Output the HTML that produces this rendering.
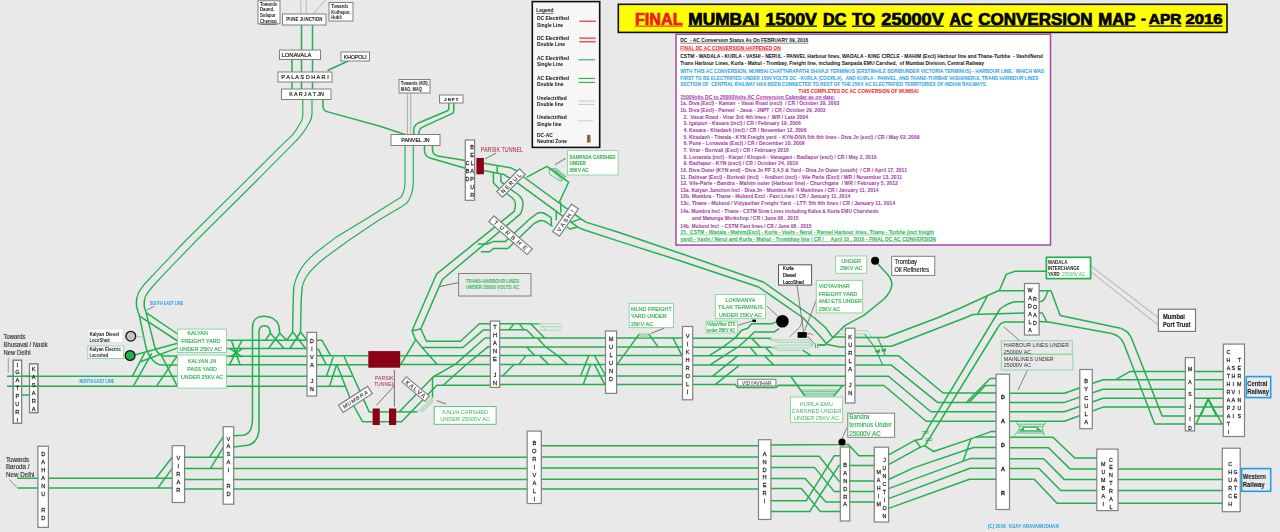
<!DOCTYPE html>
<html><head><meta charset="utf-8"><title>Mumbai DC-AC conversion map</title>
<style>
html,body{margin:0;padding:0;background:#e9e9e9;}
body{width:1280px;height:532px;overflow:hidden;}
svg{display:block;font-family:"Liberation Sans",sans-serif;}
svg text{-webkit-font-smoothing:antialiased;}
#txtlayer{opacity:0.999;}
svg polyline,svg path{fill:none;stroke-linejoin:round;stroke-linecap:butt;}
</style></head><body>
<svg width="1280" height="532" viewBox="0 0 1280 532">
<rect x="0" y="0" width="1280" height="532" fill="#e9e9e9" stroke="none"/>
<g id="txtlayer">
<g id="lines">
<polyline points="300.8,0.0 300.8,14.0" stroke="#c3c3c3" stroke-width="1.2" />
<polyline points="306.3,0.0 306.3,14.0" stroke="#c3c3c3" stroke-width="1.2" />
<polyline points="325.0,0.0 313.8,14.0" stroke="#c3c3c3" stroke-width="1.2" />
<polyline points="301.5,25.0 301.5,50.0" stroke="#22b14c" stroke-width="1.5" />
<polyline points="312.5,25.0 312.5,50.0" stroke="#22b14c" stroke-width="1.5" />
<polyline points="292.0,59.5 292.0,72.0" stroke="#22b14c" stroke-width="1.5" />
<polyline points="292.0,82.0 292.0,89.0" stroke="#22b14c" stroke-width="1.5" />
<polyline points="301.5,59.5 301.5,72.0" stroke="#22b14c" stroke-width="1.5" />
<polyline points="301.5,82.0 301.5,89.0" stroke="#22b14c" stroke-width="1.5" />
<polyline points="312.5,59.5 312.5,72.0" stroke="#22b14c" stroke-width="1.5" />
<polyline points="312.5,82.0 312.5,89.0" stroke="#22b14c" stroke-width="1.5" />
<polyline points="348.8,60.8 327.5,70.5" stroke="#22b14c" stroke-width="1.5" />
<path d="M302.8,99.5 V113 C302.8,119 301.8,121 300.4,122.8 C298.5,126 296.5,129.5 294.1,132.9 C291,137 287.5,139.5 284,142.9 L246.4,180.4 L186.2,240 L155.3,272.7 L146,282.5 C141,288 137.6,293 136.8,298" stroke="#22b14c" stroke-width="1.15" />
<path d="M136.9,297.5 C136.2,301 136.2,304 136.6,307 L139.2,315.2 L145.5,345.4 C147,353 150,357 153,360.5 C156,363.5 158,365 162,365 L177.5,365" stroke="#22b14c" stroke-width="1.5" />
<path d="M312,99.5 V113 C312,119 310.5,121 309.2,122.8 C307.5,126 305.5,129.5 302.9,132.9 C299.5,137.5 296,141 292.8,144.2 L257.3,180 L196.9,240 L165.4,272.7 L154,285 C149,290.5 145.5,295 144.6,299" stroke="#22b14c" stroke-width="1.15" />
<path d="M144.7,298.5 C144,302 144,304.5 144.3,307 L146.1,312.6 L153,340 C154.5,347 155.5,350.5 157.8,352.6 C159.5,354.5 161,355.9 164,355.9 L177.5,355.9" stroke="#22b14c" stroke-width="1.5" />
<path d="M323,99.5 V106 Q323,110.5 327,111.6 L380,126.3 L405,134.5" stroke="#22b14c" stroke-width="1.5" />
<polyline points="407.5,93.0 407.5,134.5" stroke="#b0b0b0" stroke-width="1.1" />
<polyline points="410.8,93.0 410.8,134.5" stroke="#b0b0b0" stroke-width="1.1" />
<path d="M448.8,103 V108.5 Q448.8,110.3 447,111 L417.8,123.3 Q413.8,125.5 413.8,129.5 V134.5" stroke="#22b14c" stroke-width="1.5" />
<path d="M453.8,103 V110.8 Q453.8,112.8 452,113.6 L423.5,126.6 Q419,129 419,132 V134.5" stroke="#22b14c" stroke-width="1.5" />
<path d="M405,145.5 V182.7 C404.8,190 403.5,194 400.8,197.2 L364.5,220 L335.6,237.6 L318,251 C311,256.5 305,262.5 301.6,267.9 C298.5,273 295,280 293.8,287" stroke="#22b14c" stroke-width="1.15" />
<polyline points="293.8,286.5 293.2,300.0 292.6,333.0" stroke="#22b14c" stroke-width="1.4" />
<path d="M413.3,145.5 V182.7 C413,192 410.5,198 407.1,202.8 L400.1,207.6 L379,220 L348.2,240.8 L326,257 C319,262.5 313,268 309.1,272.9 C306,277 303.2,282 302.2,287" stroke="#22b14c" stroke-width="1.15" />
<polyline points="302.2,286.5 301.2,300.0 300.5,333.0" stroke="#22b14c" stroke-width="1.4" />
<path d="M432.5,145.5 V150 Q433,155 438,156 L465.3,160.5" stroke="#22b14c" stroke-width="1.5" />
<path d="M424.5,145.5 V151 Q425,156.5 430,158 L465.3,168.3" stroke="#22b14c" stroke-width="1.5" />
<polyline points="483.7,163.3 510.4,167.7 515.4,170.2 523.0,176.5 580.9,218.9 585.9,222.1 620.0,232.8 680.0,253.2 763.3,282.0 814.6,318.0 825.9,328.0 832.2,336.9 845.8,336.9" stroke="#22b14c" stroke-width="1.5" />
<polyline points="483.7,170.6 504.0,174.6 517.3,182.8 556.3,211.4 577.8,227.1 581.5,229.0 620.0,241.6 680.0,260.7 758.6,287.0 803.3,318.0 820.9,336.9 827.2,344.4 838.5,346.7 845.4,347.2" stroke="#22b14c" stroke-width="1.5" />
<polyline points="497.2,165.2 497.2,172.9" stroke="#22b14c" stroke-width="1.5" />
<path d="M493.4,172.5 V182.8 L499,188.5 L508.5,195 C513,198 515.4,200 515.4,203.8 C515.4,207 515,209.5 514.2,211.4 L436.7,273.8 L412,330.7 L415.2,338.9 L422.1,347.5 H463 L483.2,330.1 H490.3" stroke="#22b14c" stroke-width="1.5" />
<path d="M500.9,174.6 V181.6 L510.4,189.1 L518.6,195 C522,198 523,200 523,203.8 C523,208 522,211 520.5,213.9 L442.3,279.5 L420.8,328.9 L426.5,341.2 H460.5 L479.4,323.8 H490.3" stroke="#22b14c" stroke-width="1.5" />
<polyline points="412.0,330.7 420.8,328.9" stroke="#22b14c" stroke-width="1.5" />
<polyline points="415.8,339.6 400.5,364.8" stroke="#22b14c" stroke-width="1.5" />
<polyline points="422.1,347.5 437.2,364.6" stroke="#22b14c" stroke-width="1.5" />
<path d="M551.3,217.7 L544.5,213.5 Q540.6,211.5 537,213.5 L530.5,218.3 L505.3,241.6 H493.4 L487,244 H477.6" stroke="#22b14c" stroke-width="1.5" />
<path d="M552.6,226.5 L546,222 Q541.9,219.5 538,221.5 L534.3,223.3 L507.9,248.5 H493.4 L489.6,251.7 H480.8" stroke="#22b14c" stroke-width="1.5" />
<polyline points="556.3,211.4 556.3,220.2" stroke="#22b14c" stroke-width="1.5" />
<polyline points="551.3,217.7 551.3,225.9" stroke="#22b14c" stroke-width="1.5" />
<polyline points="570.8,222.1 580.9,218.9" stroke="#22b14c" stroke-width="1.5" />
<polyline points="567.1,227.1 569.6,229.0 577.8,227.1" stroke="#22b14c" stroke-width="1.5" />
<polyline points="526.8,177.2 546.9,166.4 568.6,182.2 559.5,201.7 560.8,203.0 560.8,212.6" stroke="#22b14c" stroke-width="1.5" />
<g stroke="#22b14c" stroke-width="0.7" fill="none">
<polygon points="549.4,169 555.7,168.3 565.8,176.5 560.8,181.6 549.4,174"/>
<line x1="550.8" y1="169.1" x2="561.9" y2="180.5"/>
<line x1="552.2" y1="169.2" x2="563.0" y2="179.4"/>
<line x1="553.6" y1="169.3" x2="564.1" y2="178.3"/>
<line x1="555.0" y1="169.4" x2="565.2" y2="177.2"/>
</g>
<path d="M878,264 L888,275 Q893,281 891.5,287 Q890,293 884,299 L864.2,315.2 L844.8,325.6 L832.2,338.2 L824.7,345.1 H818.4" stroke="#22b14c" stroke-width="1.5" />
<polyline points="7.0,376.3 177.5,376.3" stroke="#22b14c" stroke-width="1.5" />
<polyline points="7.0,386.2 177.5,386.2" stroke="#22b14c" stroke-width="1.5" />
<polyline points="21.6,395.0 29.5,395.0" stroke="#22b14c" stroke-width="1.5" />
<polyline points="8.3,357.5 8.3,372.5" stroke="#8a8a8a" stroke-width="0.8" />
<polyline points="132.3,376.3 144.6,353.2" stroke="#22b14c" stroke-width="1.5" />
<polyline points="133.4,386.2 151.8,353.4" stroke="#22b14c" stroke-width="1.5" />
<polyline points="156.5,386.2 177.2,355.9" stroke="#22b14c" stroke-width="1.5" />
<polyline points="161.8,356.2 177.2,386.2" stroke="#22b14c" stroke-width="1.5" />
<polyline points="139.2,315.8 177.6,341.0" stroke="#22b14c" stroke-width="1.5" />
<polyline points="146.1,312.6 177.6,334.0" stroke="#22b14c" stroke-width="1.5" />
<polyline points="135.4,354.8 177.6,343.2" stroke="#22b14c" stroke-width="1.5" />
<polyline points="140.5,361.8 177.6,347.9" stroke="#22b14c" stroke-width="1.5" />
<polyline points="136.7,336.2 144.2,337.4" stroke="#b5b5b5" stroke-width="0.9" />
<polyline points="146.7,310.1 154.3,306.3" stroke="#666" stroke-width="0.8" />
<polyline points="226.5,340.3 307.0,340.3" stroke="#22b14c" stroke-width="1.5" />
<polyline points="226.5,348.5 307.0,348.5" stroke="#22b14c" stroke-width="1.5" />
<polyline points="226.5,356.3 307.0,356.3" stroke="#22b14c" stroke-width="1.5" />
<polyline points="226.5,364.8 307.0,364.8" stroke="#22b14c" stroke-width="1.5" />
<polyline points="226.5,376.3 307.0,376.3" stroke="#22b14c" stroke-width="1.5" />
<polyline points="226.5,386.2 307.0,386.2" stroke="#22b14c" stroke-width="1.5" />
<polyline points="231.3,340.3 240.1,364.8" stroke="#22b14c" stroke-width="1.5" />
<polyline points="242.0,340.3 229.4,364.8" stroke="#22b14c" stroke-width="1.5" />
<polyline points="230.4,348.9 242.2,356.8" stroke="#22b14c" stroke-width="1.5" />
<polyline points="242.2,348.9 230.4,356.8" stroke="#22b14c" stroke-width="1.5" />
<path d="M233.7,435.8 L243,435.2 C250,434.5 252.5,427 252.5,418 V327.6 C252.5,320 257,316.3 263.4,316.3 C271,316.3 279.2,320 279.2,328.9 L279.8,333.3 L286.7,340.3" stroke="#22b14c" stroke-width="1.5" />
<path d="M233.7,447 L246,445.6 C255,444.5 259,437 259,428 V332.7 C259,328 261,325.7 264,325.7 C267.5,325.7 270.3,328 270.3,333.3 L284.2,348.5" stroke="#22b14c" stroke-width="1.5" />
<polyline points="270.3,333.3 265.3,340.3" stroke="#22b14c" stroke-width="1.5" />
<polyline points="279.8,333.3 268.5,348.5" stroke="#22b14c" stroke-width="1.5" />
<polyline points="292.8,332.0 286.7,340.3" stroke="#22b14c" stroke-width="1.5" />
<polyline points="292.8,332.0 305.6,348.5" stroke="#22b14c" stroke-width="1.5" />
<polyline points="300.6,332.0 289.9,348.5" stroke="#22b14c" stroke-width="1.5" />
<polyline points="300.6,332.0 306.9,340.3" stroke="#22b14c" stroke-width="1.5" />
<polyline points="316.5,340.3 322.0,340.3 330.8,355.8" stroke="#22b14c" stroke-width="1.5" />
<polyline points="316.5,348.6 318.2,349.1 326.4,364.8" stroke="#22b14c" stroke-width="1.5" />
<polyline points="316.5,355.8 368.3,355.8" stroke="#22b14c" stroke-width="1.5" />
<polyline points="316.5,364.8 368.3,364.8" stroke="#22b14c" stroke-width="1.5" />
<polyline points="316.5,376.3 352.5,376.3" stroke="#22b14c" stroke-width="1.5" />
<polyline points="316.5,386.3 346.0,386.3" stroke="#22b14c" stroke-width="1.5" />
<polyline points="333.3,356.7 326.4,376.3" stroke="#22b14c" stroke-width="1.5" />
<polyline points="336.4,365.2 329.5,386.3" stroke="#22b14c" stroke-width="1.5" />
<polyline points="344.0,356.3 369.2,411.9 372.6,411.9" stroke="#22b14c" stroke-width="1.5" />
<polyline points="337.1,365.2 351.6,402.0 362.5,421.7 372.6,421.7" stroke="#22b14c" stroke-width="1.5" />
<polyline points="379.8,411.9 389.0,411.9" stroke="#22b14c" stroke-width="1.5" />
<polyline points="379.8,421.7 389.0,421.7" stroke="#22b14c" stroke-width="1.5" />
<polyline points="396.2,411.9 417.3,411.9" stroke="#22b14c" stroke-width="1.5" />
<polyline points="399.1,411.9 433.1,377.0 455.5,364.1 485.0,338.0 490.3,338.0" stroke="#22b14c" stroke-width="1.5" />
<polyline points="396.2,421.7 401.6,421.7 436.9,385.3 490.3,385.3" stroke="#22b14c" stroke-width="1.5" />
<polyline points="433.1,377.0 434.5,376.2 490.3,376.2" stroke="#22b14c" stroke-width="1.5" />
<polyline points="443.2,385.3 465.8,365.0 488.2,346.7 490.3,346.7" stroke="#22b14c" stroke-width="1.5" />
<polyline points="432.5,377.0 432.5,397.7" stroke="#22b14c" stroke-width="1.5" />
<polyline points="417.6,411.7 432.6,397.0" stroke="#5cc47a" stroke-width="0.5" />
<polyline points="419.3,411.7 432.9,398.5" stroke="#5cc47a" stroke-width="0.5" />
<polyline points="421.0,411.7 433.2,400.0" stroke="#5cc47a" stroke-width="0.5" />
<polyline points="422.7,411.7 433.5,401.5" stroke="#5cc47a" stroke-width="0.5" />
<polyline points="400.3,355.7 490.3,355.7" stroke="#22b14c" stroke-width="1.5" />
<polyline points="400.3,364.6 490.3,364.6" stroke="#22b14c" stroke-width="1.5" />
<polyline points="499.7,338.0 605.6,338.0" stroke="#22b14c" stroke-width="1.5" />
<polyline points="499.7,347.0 605.6,347.0" stroke="#22b14c" stroke-width="1.5" />
<polyline points="499.7,355.6 605.6,355.6" stroke="#22b14c" stroke-width="1.5" />
<polyline points="499.7,364.4 605.6,364.4" stroke="#22b14c" stroke-width="1.5" />
<polyline points="499.7,376.0 605.6,376.0" stroke="#22b14c" stroke-width="1.5" />
<polyline points="499.7,384.4 605.6,384.4" stroke="#22b14c" stroke-width="1.5" />
<polyline points="499.7,323.7 539.6,323.7" stroke="#22b14c" stroke-width="1.5" />
<polyline points="499.7,329.8 526.8,329.8" stroke="#22b14c" stroke-width="1.5" />
<polyline points="540.0,323.7 561.8,323.7" stroke="#8fd6a1" stroke-width="0.7" />
<polyline points="540.0,326.8 561.8,326.8" stroke="#8fd6a1" stroke-width="0.7" />
<polyline points="540.0,330.2 561.8,330.2" stroke="#8fd6a1" stroke-width="0.7" />
<polyline points="531.5,323.7 540.0,323.7 546.0,330.2" stroke="#8fd6a1" stroke-width="0.7" />
<polyline points="508.8,329.9 513.9,323.9" stroke="#22b14c" stroke-width="1.5" />
<polyline points="519.5,323.9 523.8,329.9" stroke="#22b14c" stroke-width="1.5" />
<polyline points="526.6,329.8 534.5,338.0" stroke="#22b14c" stroke-width="1.5" />
<polyline points="537.6,338.2 545.5,346.8 557.4,355.4 567.4,364.4" stroke="#22b14c" stroke-width="1.5" />
<polyline points="530.9,323.9 544.7,338.0" stroke="#22b14c" stroke-width="1.5" />
<polyline points="526.6,347.0 534.5,355.2" stroke="#22b14c" stroke-width="1.5" />
<polyline points="539.7,355.6 548.5,364.4" stroke="#22b14c" stroke-width="1.5" />
<polyline points="525.9,355.6 518.9,364.4" stroke="#22b14c" stroke-width="1.5" />
<polyline points="513.9,364.4 502.6,376.0" stroke="#22b14c" stroke-width="1.5" />
<polyline points="580.6,376.0 588.8,355.6" stroke="#22b14c" stroke-width="1.5" />
<polyline points="594.5,355.6 605.8,376.0" stroke="#22b14c" stroke-width="1.5" />
<polyline points="583.2,384.4 590.7,364.4" stroke="#22b14c" stroke-width="1.5" />
<polyline points="594.5,364.4 604.6,384.4" stroke="#22b14c" stroke-width="1.5" />
<polyline points="616.5,338.0 682.5,338.0" stroke="#22b14c" stroke-width="1.5" />
<polyline points="616.5,347.0 682.5,347.0" stroke="#22b14c" stroke-width="1.5" />
<polyline points="616.5,355.6 682.5,355.6" stroke="#22b14c" stroke-width="1.5" />
<polyline points="616.5,364.4 682.5,364.4" stroke="#22b14c" stroke-width="1.5" />
<polyline points="616.5,376.0 682.5,376.0" stroke="#22b14c" stroke-width="1.5" />
<polyline points="616.5,384.4 682.5,384.4" stroke="#22b14c" stroke-width="1.5" />
<polyline points="616.9,364.6 639.0,334.4 649.0,334.4 657.9,346.6" stroke="#22b14c" stroke-width="1.5" />
<rect x="639.5" y="333.8" width="9" height="3.6" fill="#a8dcb4" stroke="none"/>
<polyline points="673.0,338.0 681.8,355.4" stroke="#22b14c" stroke-width="1.5" />
<polyline points="650.5,333.6 664.5,328.0" stroke="#555" stroke-width="0.8" />
<polyline points="692.6,338.2 771.2,338.2" stroke="#22b14c" stroke-width="1.5" />
<polyline points="692.6,347.2 771.8,347.2" stroke="#22b14c" stroke-width="1.5" />
<polyline points="692.6,355.8 845.6,355.8" stroke="#22b14c" stroke-width="1.5" />
<polyline points="692.6,364.9 845.6,364.9" stroke="#22b14c" stroke-width="1.5" />
<polyline points="692.6,376.2 845.6,376.2" stroke="#22b14c" stroke-width="1.5" />
<polyline points="692.6,384.6 735.4,384.6 737.4,387.4 776.3,387.4 778.3,385.2 845.6,385.6" stroke="#22b14c" stroke-width="1.5" />
<polyline points="708.8,355.8 722.7,347.2 735.3,338.0 741.6,330.2 747.9,328.3 751.6,323.7 772.4,323.7 776.0,321.8" stroke="#22b14c" stroke-width="1.5" />
<polyline points="710.1,364.9 723.9,355.8 737.8,347.2 748.5,338.0 754.2,331.9 774.3,331.9 779.3,328.7" stroke="#22b14c" stroke-width="1.5" />
<polyline points="712.6,376.2 737.8,355.8" stroke="#22b14c" stroke-width="1.5" />
<polyline points="715.1,384.6 739.0,365.6" stroke="#22b14c" stroke-width="1.5" />
<polyline points="751.7,338.4 760.6,347.4" stroke="#22b14c" stroke-width="1.5" />
<polyline points="750.3,347.4 757.3,355.8" stroke="#22b14c" stroke-width="1.5" />
<polyline points="765.8,347.4 773.3,355.8" stroke="#22b14c" stroke-width="1.5" />
<polyline points="764.4,355.8 773.8,364.9" stroke="#22b14c" stroke-width="1.5" />
<polyline points="790.7,376.2 805.0,396.3" stroke="#22b14c" stroke-width="1.5" />
<polyline points="842.6,385.5 833.5,396.3" stroke="#22b14c" stroke-width="1.5" />
<polyline points="800.5,390.0 837.5,390.0" stroke="#22b14c" stroke-width="0.6" />
<polyline points="801.6,391.6 836.4,391.6" stroke="#22b14c" stroke-width="0.6" />
<polyline points="802.7,393.2 835.3,393.2" stroke="#22b14c" stroke-width="0.6" />
<polyline points="803.9,394.8 834.1,394.8" stroke="#22b14c" stroke-width="0.6" />
<polyline points="804.9,396.3 833.1,396.3" stroke="#22b14c" stroke-width="0.6" />
<polyline points="802.6,350.1 811.5,355.8" stroke="#22b14c" stroke-width="1.5" />
<polyline points="766.0,338.6 779.0,340.0 809.0,340.0 813.0,345.2" stroke="#6cc985" stroke-width="0.55" />
<polyline points="768.0,339.4 779.0,342.4 809.0,342.4 813.0,345.2" stroke="#6cc985" stroke-width="0.55" />
<polyline points="771.5,347.2 779.0,345.2 809.0,345.2 813.0,345.2" stroke="#6cc985" stroke-width="0.55" />
<polyline points="772.0,347.6 779.0,348.0 809.0,348.0 813.0,345.2" stroke="#6cc985" stroke-width="0.55" />
<polyline points="772.5,348.0 779.0,350.4 802.6,350.4" stroke="#6cc985" stroke-width="0.55" />
<polyline points="815.4,343.6 815.4,348.2" stroke="#22b14c" stroke-width="0.9" />
<polyline points="817.6,343.6 817.6,348.2" stroke="#22b14c" stroke-width="0.9" />
<polyline points="818.4,345.1 824.7,345.1" stroke="#22b14c" stroke-width="1.5" />
<polyline points="840.0,330.6 845.6,330.6" stroke="#8fd6a1" stroke-width="0.7" />
<polyline points="838.0,334.0 845.6,334.0" stroke="#8fd6a1" stroke-width="0.7" />
<polyline points="854.9,330.6 867.1,330.6 871.5,337.0" stroke="#8fd6a1" stroke-width="0.7" />
<polyline points="854.9,334.0 864.0,334.0" stroke="#8fd6a1" stroke-width="0.7" />
<polyline points="854.9,337.5 885.3,337.5 937.0,318.0 960.0,308.3 997.8,291.0 999.5,290.8 1024.5,290.8" stroke="#22b14c" stroke-width="1.5" />
<polyline points="854.9,346.3 891.6,346.3 964.7,318.0 972.8,314.5 1024.5,313.0" stroke="#22b14c" stroke-width="1.5" />
<polyline points="987.1,296.6 977.6,314.2" stroke="#22b14c" stroke-width="1.5" />
<polyline points="854.9,355.8 898.6,355.8 943.1,393.0 996.1,393.0" stroke="#22b14c" stroke-width="1.5" />
<polyline points="854.9,364.9 891.0,364.9 937.5,402.4 996.1,402.4" stroke="#22b14c" stroke-width="1.5" />
<polyline points="854.9,376.2 888.5,376.2 930.9,411.8 996.1,411.8" stroke="#22b14c" stroke-width="1.5" />
<polyline points="854.9,385.5 883.9,385.5 926.2,421.2 996.1,421.2" stroke="#22b14c" stroke-width="1.5" />
<polyline points="864.6,334.0 874.0,346.3 882.8,364.9" stroke="#22b14c" stroke-width="1.1" />
<polyline points="877.8,337.5 885.3,355.8" stroke="#22b14c" stroke-width="1.1" />
<path d="M875.2,351.6 l4.4,-2 l-0.4,3 z M881.2,350.6 l4.4,-2 l-0.4,3 z" style="fill:#22b14c" stroke="#22b14c" stroke-width="0.8"/>
<polyline points="1046.0,271.2 1015.0,271.2 1006.2,274.4 999.3,290.8" stroke="#22b14c" stroke-width="1.5" />
<path d="M1024.5,301.7 H1017 C1010,302 1005,305 1000,309 L921.6,438.9 L915.3,440.2 L888.6,454.8" stroke="#22b14c" stroke-width="1.5" />
<path d="M1024.5,322 H1004.7 Q1000.5,322.8 998.2,327 L924.8,445.8 L920.4,447.1 L888.6,464.6" stroke="#22b14c" stroke-width="1.5" />
<polyline points="1039.0,290.8 1051.0,290.8 1060.2,315.6 1120.5,328.3" stroke="#22b14c" stroke-width="1.5" />
<path d="M1120.5,328.3 C1126,330 1129.5,333.5 1131.8,339 L1162.2,416.1 H1223.3" stroke="#22b14c" stroke-width="1.5" />
<polyline points="1039.0,321.6 1050.0,322.3 1111.7,333.4" stroke="#22b14c" stroke-width="1.5" />
<path d="M1111.7,333.4 C1118,335 1121.5,338 1123.6,343 L1154.7,424 H1223.3" stroke="#22b14c" stroke-width="1.5" />
<path d="M1039,301.7 L1042,301.2 Q1044.5,300 1045.5,297 L1048,291" stroke="#22b14c" stroke-width="1.5" />
<polyline points="1039.0,313.0 1042.3,313.0 1047.0,322.2" stroke="#22b14c" stroke-width="1.5" />
<polyline points="1090.8,266.0 1158.4,317.7" stroke="#bdbdbd" stroke-width="1.2" />
<polyline points="1090.8,271.6 1158.4,325.2" stroke="#bdbdbd" stroke-width="1.2" />
<polyline points="1009.5,393.3 1064.4,393.3 1103.0,379.8 1223.3,379.8" stroke="#22b14c" stroke-width="1.5" />
<polyline points="1009.5,402.4 1064.4,402.4 1103.0,389.2 1223.3,389.2" stroke="#22b14c" stroke-width="1.5" />
<polyline points="1009.5,411.8 1064.4,411.8 1103.0,398.2 1223.3,398.2" stroke="#22b14c" stroke-width="1.5" />
<polyline points="1009.5,421.2 1064.4,421.2 1103.0,407.1 1223.3,407.1" stroke="#22b14c" stroke-width="1.5" />
<polyline points="1116.1,379.4 1130.2,371.4 1223.3,371.4" stroke="#22b14c" stroke-width="1.5" />
<polyline points="1196.0,424.0 1208.2,398.6 1222.0,424.0" stroke="#22b14c" stroke-width="1.5" />
<polyline points="1200.6,416.1 1208.2,399.5 1216.5,416.1" stroke="#22b14c" stroke-width="1.5" />
<polyline points="996.1,378.5 990.1,378.5 966.6,402.4" stroke="#22b14c" stroke-width="1.5" />
<polyline points="996.1,385.5 985.4,385.5 969.0,402.4" stroke="#22b14c" stroke-width="1.5" />
<polyline points="17.3,478.3 172.2,478.3" stroke="#22b14c" stroke-width="1.5" />
<polyline points="17.3,488.0 172.2,488.0" stroke="#22b14c" stroke-width="1.5" />
<polyline points="9.5,479.6 16.8,487.4" stroke="#777" stroke-width="0.8" />
<polyline points="184.6,457.2 223.2,457.2" stroke="#22b14c" stroke-width="1.5" />
<polyline points="184.6,468.4 223.2,468.4" stroke="#22b14c" stroke-width="1.5" />
<polyline points="184.6,479.4 223.2,479.4" stroke="#22b14c" stroke-width="1.5" />
<polyline points="184.6,489.0 223.2,489.0" stroke="#22b14c" stroke-width="1.5" />
<polyline points="155.8,478.3 172.2,457.2" stroke="#22b14c" stroke-width="1.5" />
<polyline points="157.9,488.0 172.2,468.4" stroke="#22b14c" stroke-width="1.5" />
<polyline points="209.5,457.2 223.2,436.8" stroke="#22b14c" stroke-width="1.5" />
<polyline points="210.5,468.4 223.2,447.4" stroke="#22b14c" stroke-width="1.5" />
<polyline points="233.7,457.2 527.2,457.2" stroke="#22b14c" stroke-width="1.5" />
<polyline points="233.7,468.4 527.2,468.4" stroke="#22b14c" stroke-width="1.5" />
<polyline points="233.7,479.4 527.2,479.4" stroke="#22b14c" stroke-width="1.5" />
<polyline points="233.7,489.0 527.2,489.0" stroke="#22b14c" stroke-width="1.5" />
<polyline points="541.3,445.8 758.5,445.8" stroke="#22b14c" stroke-width="1.5" />
<polyline points="541.3,457.0 758.5,457.0" stroke="#22b14c" stroke-width="1.5" />
<polyline points="541.3,467.9 758.5,467.9" stroke="#22b14c" stroke-width="1.5" />
<polyline points="541.3,479.2 758.5,479.2" stroke="#22b14c" stroke-width="1.5" />
<polyline points="541.3,488.9 758.5,488.9" stroke="#22b14c" stroke-width="1.5" />
<polyline points="770.9,445.0 846.0,444.6 848.4,444.4 858.7,455.7 874.5,455.7" stroke="#22b14c" stroke-width="1.5" />
<polyline points="770.9,456.3 819.2,456.3 839.0,481.1 874.5,481.1" stroke="#22b14c" stroke-width="1.5" />
<polyline points="770.9,467.4 814.5,467.4 834.3,491.6 874.5,491.6" stroke="#22b14c" stroke-width="1.5" />
<polyline points="770.9,478.6 805.2,478.6 825.8,501.9 874.5,501.9" stroke="#22b14c" stroke-width="1.5" />
<polyline points="770.9,488.6 801.4,488.6 820.2,511.5 840.3,511.5" stroke="#22b14c" stroke-width="1.5" />
<polyline points="770.9,500.8 806.1,500.8 834.3,455.7 840.3,455.7" stroke="#22b14c" stroke-width="1.5" />
<polyline points="770.9,511.5 809.8,511.5 839.0,465.4 874.5,465.4" stroke="#22b14c" stroke-width="1.5" />
<polyline points="888.6,479.5 913.5,467.9 973.3,447.5 996.1,447.5" stroke="#22b14c" stroke-width="1.5" />
<polyline points="888.6,488.6 970.8,458.4 996.1,458.4" stroke="#22b14c" stroke-width="1.5" />
<polyline points="888.6,498.6 970.1,468.2 996.1,468.2" stroke="#22b14c" stroke-width="1.5" />
<polyline points="888.6,508.4 969.5,479.2 996.1,479.2" stroke="#22b14c" stroke-width="1.5" />
<polyline points="924.8,445.8 933.6,451.5 970.8,438.9 990.9,431.6 996.1,431.6" stroke="#22b14c" stroke-width="1.5" />
<polyline points="975.5,437.3 977.1,437.0 996.1,437.0" stroke="#22b14c" stroke-width="1.5" />
<polyline points="970.8,438.9 963.2,460.9" stroke="#22b14c" stroke-width="1.5" />
<polyline points="915.3,440.2 920.4,447.1" stroke="#22b14c" stroke-width="1.5" />
<g stroke="#22b14c" stroke-width="0.8"><line x1="922.3" y1="431.6" x2="928.6" y2="431.2"/><line x1="922.3" y1="433.4" x2="928.6" y2="433"/><line x1="925.4" y1="438.8" x2="932.3" y2="438.4"/><line x1="925.4" y1="440.6" x2="932.3" y2="440.2"/></g>
<polyline points="1009.5,437.3 1053.0,437.3 1074.8,458.0 1096.8,458.0" stroke="#22b14c" stroke-width="1.5" />
<polyline points="1009.5,447.8 1048.5,447.8 1070.0,468.9 1222.3,468.9" stroke="#22b14c" stroke-width="1.5" />
<polyline points="1009.5,458.8 1043.7,458.8 1064.4,479.6 1222.3,479.6" stroke="#22b14c" stroke-width="1.5" />
<polyline points="1009.5,468.5 1039.0,468.5 1060.7,490.5 1222.3,490.5" stroke="#22b14c" stroke-width="1.5" />
<polyline points="1009.5,479.3 1034.3,479.3 1057.0,503.3 1222.3,503.3" stroke="#22b14c" stroke-width="1.5" />
<g stroke="#22b14c" stroke-width="0.7" fill="none"><polyline points="1015.8,421.6 1020.1,427.9 1014.2,435.8"/><polyline points="1046.2,421.6 1042.2,427.9 1044.2,435.8"/><line x1="1017.6" y1="424.2" x2="1044.6" y2="424.2"/><line x1="1017" y1="433" x2="1043.4" y2="433"/><line x1="1019.5" y1="426.4" x2="1042.8" y2="426.4"/><line x1="1019" y1="431.4" x2="1042.6" y2="431.4"/></g>
<rect x="1023.7" y="427.5" width="13.4" height="2.8" fill="#fff" stroke="#22b14c" stroke-width="0.8"/>
<path d="M1019.6,430.4 l4,-3 v3 z M1041.2,430.4 l-4,-3 v3 z" style="fill:#22b14c" stroke="#22b14c" stroke-width="0.6"/>
</g>
<g id="boxes">
<rect x="476.4" y="158.0" width="7.5" height="16.3" fill="#880015" stroke="none" stroke-width="0" />
<rect x="368.3" y="351.1" width="31.9" height="16.6" fill="#880015" stroke="none" stroke-width="0" />
<rect x="372.6" y="408.5" width="7.2" height="16.5" fill="#880015" stroke="none" stroke-width="0" />
<rect x="389.0" y="408.5" width="7.2" height="16.5" fill="#880015" stroke="none" stroke-width="0" />
<polyline points="394.4,370.0 394.4,406.6" stroke="#555" stroke-width="0.8" />
<polyline points="394.4,385.8 376.4,405.3" stroke="#555" stroke-width="0.8" />
<polyline points="485.2,158.9 495.9,153.2" stroke="#555" stroke-width="0.8" />
<polyline points="555.1,164.6 565.8,158.3" stroke="#555" stroke-width="0.8" />
<polyline points="440.0,286.5 458.6,282.5" stroke="#555" stroke-width="0.8" />
<polyline points="436.5,400.5 446.0,404.0" stroke="#555" stroke-width="0.8" />
<rect x="282.5" y="14.0" width="43.5" height="11.0" fill="#fff" stroke="#808080" stroke-width="1" />
<text x="286.2" y="21.4" font-size="5" fill="#222" font-weight="bold" stroke="none" stroke-width="0" textLength="36.3" lengthAdjust="spacingAndGlyphs" xml:space="preserve" >PUNE JUNCTION</text>
<rect x="279.5" y="50.0" width="41.0" height="9.5" fill="#fff" stroke="#808080" stroke-width="1" />
<text x="281.4" y="57.0" font-size="6" fill="#222" font-weight="normal" stroke="#222" stroke-width="0.2" textLength="30.0" lengthAdjust="spacingAndGlyphs" xml:space="preserve" >LONAVALA</text>
<rect x="341.0" y="52.0" width="28.5" height="9.0" fill="#fff" stroke="#808080" stroke-width="1" />
<text transform="translate(355.2,58.5) scale(0.92,1)" font-size="5.6" fill="#222" font-weight="normal" text-anchor="middle" stroke="#222" stroke-width="0.2" >KHOPOLI</text>
<rect x="278.0" y="72.0" width="54.0" height="10.0" fill="#fff" stroke="#808080" stroke-width="1" />
<text x="281.3" y="79.0" font-size="5.6" fill="#222" font-weight="normal" stroke="#222" stroke-width="0.2" textLength="47.5" lengthAdjust="spacingAndGlyphs" xml:space="preserve" >P A L A S D H A R I</text>
<rect x="281.5" y="89.0" width="49.5" height="10.5" fill="#fff" stroke="#808080" stroke-width="1" />
<text x="289.3" y="96.3" font-size="5.6" fill="#222" font-weight="normal" stroke="#222" stroke-width="0.2" textLength="34.5" lengthAdjust="spacingAndGlyphs" xml:space="preserve" >K A R J A T JN</text>
<rect x="391.0" y="134.5" width="49.0" height="11.0" fill="#fff" stroke="#808080" stroke-width="1" />
<text transform="translate(415.5,142.1) scale(0.92,1)" font-size="5.8" fill="#222" font-weight="normal" text-anchor="middle" stroke="#222" stroke-width="0.2" >PANVEL JN</text>
<rect x="439.5" y="95.0" width="23.5" height="8.0" fill="#fff" stroke="#808080" stroke-width="1" />
<text transform="translate(451.2,100.6) scale(0.95,1)" font-size="4.4" fill="#222" font-weight="bold" text-anchor="middle" stroke="#222" stroke-width="0.2" >J N P T</text>
<rect x="258.0" y="0.8" width="22.0" height="23.0" fill="#fff" stroke="#808080" stroke-width="1" />
<text transform="translate(260.0,5.5) scale(0.85,1)" font-size="5" fill="#222" font-weight="bold" text-anchor="start" stroke="none" >Towards</text>
<text transform="translate(260.0,11.3) scale(0.85,1)" font-size="5" fill="#222" font-weight="bold" text-anchor="start" stroke="none" >Daund,</text>
<text transform="translate(260.0,17.1) scale(0.85,1)" font-size="5" fill="#222" font-weight="bold" text-anchor="start" stroke="none" >Solapur</text>
<text transform="translate(260.0,22.9) scale(0.85,1)" font-size="5" fill="#222" font-weight="bold" text-anchor="start" stroke="none" text-decoration="underline">Chennai</text>
<rect x="329.0" y="2.5" width="24.0" height="18.5" fill="#fff" stroke="#808080" stroke-width="1" />
<text transform="translate(331.2,8.0) scale(0.85,1)" font-size="5" fill="#222" font-weight="bold" text-anchor="start" stroke="none" >Towards</text>
<text transform="translate(331.2,13.7) scale(0.85,1)" font-size="5" fill="#222" font-weight="bold" text-anchor="start" stroke="none" >Kolhapur,</text>
<text transform="translate(331.2,19.4) scale(0.85,1)" font-size="5" fill="#222" font-weight="bold" text-anchor="start" stroke="none" >Hubli</text>
<rect x="399.0" y="79.5" width="31.0" height="13.5" fill="#fff" stroke="#808080" stroke-width="1" />
<text x="400.8" y="84.7" font-size="4.9" fill="#222" font-weight="bold" stroke="none" stroke-width="0" textLength="28.0" lengthAdjust="spacingAndGlyphs" xml:space="preserve" >Towards (KR),</text>
<text x="400.8" y="90.5" font-size="4.9" fill="#222" font-weight="bold" stroke="none" stroke-width="0" textLength="21.0" lengthAdjust="spacingAndGlyphs" xml:space="preserve" >MAO, MAQ</text>
<rect x="13.2" y="360.2" width="8.4" height="63.1" fill="#fff" stroke="#808080" stroke-width="1" />
<rect x="29.5" y="363.8" width="8.4" height="48.9" fill="#fff" stroke="#808080" stroke-width="1" />
<polyline points="12.0,376.3 39.0,376.3" stroke="#22b14c" stroke-width="1.5" />
<polyline points="12.0,386.2 39.0,386.2" stroke="#22b14c" stroke-width="1.5" />
<rect x="13.2" y="360.2" width="8.4" height="63.1" fill="none" stroke="#808080" stroke-width="1.2" />
<text transform="translate(17.4,366.5) scale(0.95,1)" font-size="6" fill="#2b2b2b" font-weight="normal" text-anchor="middle" stroke="#2b2b2b" stroke-width="0.25">I</text>
<text transform="translate(17.4,374.4) scale(0.95,1)" font-size="6" fill="#2b2b2b" font-weight="normal" text-anchor="middle" stroke="#2b2b2b" stroke-width="0.25">G</text>
<text transform="translate(17.4,382.3) scale(0.95,1)" font-size="6" fill="#2b2b2b" font-weight="normal" text-anchor="middle" stroke="#2b2b2b" stroke-width="0.25">A</text>
<text transform="translate(17.4,390.2) scale(0.95,1)" font-size="6" fill="#2b2b2b" font-weight="normal" text-anchor="middle" stroke="#2b2b2b" stroke-width="0.25">T</text>
<text transform="translate(17.4,398.1) scale(0.95,1)" font-size="6" fill="#2b2b2b" font-weight="normal" text-anchor="middle" stroke="#2b2b2b" stroke-width="0.25">P</text>
<text transform="translate(17.4,406.0) scale(0.95,1)" font-size="6" fill="#2b2b2b" font-weight="normal" text-anchor="middle" stroke="#2b2b2b" stroke-width="0.25">U</text>
<text transform="translate(17.4,413.9) scale(0.95,1)" font-size="6" fill="#2b2b2b" font-weight="normal" text-anchor="middle" stroke="#2b2b2b" stroke-width="0.25">R</text>
<text transform="translate(17.4,421.8) scale(0.95,1)" font-size="6" fill="#2b2b2b" font-weight="normal" text-anchor="middle" stroke="#2b2b2b" stroke-width="0.25">I</text>
<rect x="29.5" y="363.8" width="8.4" height="48.9" fill="none" stroke="#808080" stroke-width="1.2" />
<text transform="translate(33.7,370.5) scale(0.95,1)" font-size="6" fill="#2b2b2b" font-weight="normal" text-anchor="middle" stroke="#2b2b2b" stroke-width="0.25">K</text>
<text transform="translate(33.7,378.5) scale(0.95,1)" font-size="6" fill="#2b2b2b" font-weight="normal" text-anchor="middle" stroke="#2b2b2b" stroke-width="0.25">A</text>
<text transform="translate(33.7,386.5) scale(0.95,1)" font-size="6" fill="#2b2b2b" font-weight="normal" text-anchor="middle" stroke="#2b2b2b" stroke-width="0.25">S</text>
<text transform="translate(33.7,394.5) scale(0.95,1)" font-size="6" fill="#2b2b2b" font-weight="normal" text-anchor="middle" stroke="#2b2b2b" stroke-width="0.25">A</text>
<text transform="translate(33.7,402.5) scale(0.95,1)" font-size="6" fill="#2b2b2b" font-weight="normal" text-anchor="middle" stroke="#2b2b2b" stroke-width="0.25">R</text>
<text transform="translate(33.7,410.5) scale(0.95,1)" font-size="6" fill="#2b2b2b" font-weight="normal" text-anchor="middle" stroke="#2b2b2b" stroke-width="0.25">A</text>
<rect x="37.9" y="446.3" width="10.5" height="81.1" fill="#fff" stroke="#808080" stroke-width="1.2" />
<text transform="translate(43.2,456.3) scale(0.95,1)" font-size="6" fill="#2b2b2b" font-weight="normal" text-anchor="middle" stroke="#2b2b2b" stroke-width="0.25">D</text>
<text transform="translate(43.2,464.3) scale(0.95,1)" font-size="6" fill="#2b2b2b" font-weight="normal" text-anchor="middle" stroke="#2b2b2b" stroke-width="0.25">A</text>
<text transform="translate(43.2,472.3) scale(0.95,1)" font-size="6" fill="#2b2b2b" font-weight="normal" text-anchor="middle" stroke="#2b2b2b" stroke-width="0.25">H</text>
<text transform="translate(43.2,480.3) scale(0.95,1)" font-size="6" fill="#2b2b2b" font-weight="normal" text-anchor="middle" stroke="#2b2b2b" stroke-width="0.25">A</text>
<text transform="translate(43.2,488.3) scale(0.95,1)" font-size="6" fill="#2b2b2b" font-weight="normal" text-anchor="middle" stroke="#2b2b2b" stroke-width="0.25">N</text>
<text transform="translate(43.2,496.3) scale(0.95,1)" font-size="6" fill="#2b2b2b" font-weight="normal" text-anchor="middle" stroke="#2b2b2b" stroke-width="0.25">U</text>
<text transform="translate(43.2,512.3) scale(0.95,1)" font-size="6" fill="#2b2b2b" font-weight="normal" text-anchor="middle" stroke="#2b2b2b" stroke-width="0.25">R</text>
<text transform="translate(43.2,520.3) scale(0.95,1)" font-size="6" fill="#2b2b2b" font-weight="normal" text-anchor="middle" stroke="#2b2b2b" stroke-width="0.25">D</text>
<rect x="172.2" y="445.7" width="12.4" height="56.8" fill="#fff" stroke="#808080" stroke-width="1.2" />
<text transform="translate(178.4,460.1) scale(0.95,1)" font-size="6" fill="#2b2b2b" font-weight="normal" text-anchor="middle" stroke="#2b2b2b" stroke-width="0.25">V</text>
<text transform="translate(178.4,468.1) scale(0.95,1)" font-size="6" fill="#2b2b2b" font-weight="normal" text-anchor="middle" stroke="#2b2b2b" stroke-width="0.25">I</text>
<text transform="translate(178.4,476.1) scale(0.95,1)" font-size="6" fill="#2b2b2b" font-weight="normal" text-anchor="middle" stroke="#2b2b2b" stroke-width="0.25">R</text>
<text transform="translate(178.4,484.1) scale(0.95,1)" font-size="6" fill="#2b2b2b" font-weight="normal" text-anchor="middle" stroke="#2b2b2b" stroke-width="0.25">A</text>
<text transform="translate(178.4,492.1) scale(0.95,1)" font-size="6" fill="#2b2b2b" font-weight="normal" text-anchor="middle" stroke="#2b2b2b" stroke-width="0.25">R</text>
<rect x="223.2" y="426.7" width="10.5" height="77.5" fill="#fff" stroke="#808080" stroke-width="1.2" />
<text transform="translate(228.5,440.5) scale(0.95,1)" font-size="6" fill="#2b2b2b" font-weight="normal" text-anchor="middle" stroke="#2b2b2b" stroke-width="0.25">V</text>
<text transform="translate(228.5,448.4) scale(0.95,1)" font-size="6" fill="#2b2b2b" font-weight="normal" text-anchor="middle" stroke="#2b2b2b" stroke-width="0.25">A</text>
<text transform="translate(228.5,456.4) scale(0.95,1)" font-size="6" fill="#2b2b2b" font-weight="normal" text-anchor="middle" stroke="#2b2b2b" stroke-width="0.25">S</text>
<text transform="translate(228.5,464.3) scale(0.95,1)" font-size="6" fill="#2b2b2b" font-weight="normal" text-anchor="middle" stroke="#2b2b2b" stroke-width="0.25">A</text>
<text transform="translate(228.5,472.3) scale(0.95,1)" font-size="6" fill="#2b2b2b" font-weight="normal" text-anchor="middle" stroke="#2b2b2b" stroke-width="0.25">I</text>
<text transform="translate(228.5,488.2) scale(0.95,1)" font-size="6" fill="#2b2b2b" font-weight="normal" text-anchor="middle" stroke="#2b2b2b" stroke-width="0.25">R</text>
<text transform="translate(228.5,496.1) scale(0.95,1)" font-size="6" fill="#2b2b2b" font-weight="normal" text-anchor="middle" stroke="#2b2b2b" stroke-width="0.25">D</text>
<rect x="307.0" y="332.4" width="9.6" height="63.6" fill="#fff" stroke="#808080" stroke-width="1.2" />
<text transform="translate(311.8,342.6) scale(0.95,1)" font-size="6" fill="#2b2b2b" font-weight="normal" text-anchor="middle" stroke="#2b2b2b" stroke-width="0.25">D</text>
<text transform="translate(311.8,350.6) scale(0.95,1)" font-size="6" fill="#2b2b2b" font-weight="normal" text-anchor="middle" stroke="#2b2b2b" stroke-width="0.25">I</text>
<text transform="translate(311.8,358.6) scale(0.95,1)" font-size="6" fill="#2b2b2b" font-weight="normal" text-anchor="middle" stroke="#2b2b2b" stroke-width="0.25">V</text>
<text transform="translate(311.8,366.6) scale(0.95,1)" font-size="6" fill="#2b2b2b" font-weight="normal" text-anchor="middle" stroke="#2b2b2b" stroke-width="0.25">A</text>
<text transform="translate(311.8,382.6) scale(0.95,1)" font-size="6" fill="#2b2b2b" font-weight="normal" text-anchor="middle" stroke="#2b2b2b" stroke-width="0.25">J</text>
<text transform="translate(311.8,390.6) scale(0.95,1)" font-size="6" fill="#2b2b2b" font-weight="normal" text-anchor="middle" stroke="#2b2b2b" stroke-width="0.25">N</text>
<rect x="490.3" y="321.1" width="9.4" height="66.3" fill="#fff" stroke="#808080" stroke-width="1.2" />
<text transform="translate(495.0,329.1) scale(0.95,1)" font-size="6" fill="#2b2b2b" font-weight="normal" text-anchor="middle" stroke="#2b2b2b" stroke-width="0.25">T</text>
<text transform="translate(495.0,337.1) scale(0.95,1)" font-size="6" fill="#2b2b2b" font-weight="normal" text-anchor="middle" stroke="#2b2b2b" stroke-width="0.25">H</text>
<text transform="translate(495.0,345.1) scale(0.95,1)" font-size="6" fill="#2b2b2b" font-weight="normal" text-anchor="middle" stroke="#2b2b2b" stroke-width="0.25">A</text>
<text transform="translate(495.0,353.1) scale(0.95,1)" font-size="6" fill="#2b2b2b" font-weight="normal" text-anchor="middle" stroke="#2b2b2b" stroke-width="0.25">N</text>
<text transform="translate(495.0,361.1) scale(0.95,1)" font-size="6" fill="#2b2b2b" font-weight="normal" text-anchor="middle" stroke="#2b2b2b" stroke-width="0.25">E</text>
<text transform="translate(495.0,377.1) scale(0.95,1)" font-size="6" fill="#2b2b2b" font-weight="normal" text-anchor="middle" stroke="#2b2b2b" stroke-width="0.25">J</text>
<text transform="translate(495.0,385.1) scale(0.95,1)" font-size="6" fill="#2b2b2b" font-weight="normal" text-anchor="middle" stroke="#2b2b2b" stroke-width="0.25">N</text>
<rect x="605.5" y="331.0" width="11.1" height="62.4" fill="#fff" stroke="#808080" stroke-width="1.2" />
<text transform="translate(611.0,341.1) scale(0.95,1)" font-size="6" fill="#2b2b2b" font-weight="normal" text-anchor="middle" stroke="#2b2b2b" stroke-width="0.25">M</text>
<text transform="translate(611.0,349.1) scale(0.95,1)" font-size="6" fill="#2b2b2b" font-weight="normal" text-anchor="middle" stroke="#2b2b2b" stroke-width="0.25">U</text>
<text transform="translate(611.0,357.1) scale(0.95,1)" font-size="6" fill="#2b2b2b" font-weight="normal" text-anchor="middle" stroke="#2b2b2b" stroke-width="0.25">L</text>
<text transform="translate(611.0,365.1) scale(0.95,1)" font-size="6" fill="#2b2b2b" font-weight="normal" text-anchor="middle" stroke="#2b2b2b" stroke-width="0.25">U</text>
<text transform="translate(611.0,373.1) scale(0.95,1)" font-size="6" fill="#2b2b2b" font-weight="normal" text-anchor="middle" stroke="#2b2b2b" stroke-width="0.25">N</text>
<text transform="translate(611.0,381.1) scale(0.95,1)" font-size="6" fill="#2b2b2b" font-weight="normal" text-anchor="middle" stroke="#2b2b2b" stroke-width="0.25">D</text>
<rect x="682.5" y="326.5" width="10.2" height="73.3" fill="#fff" stroke="#808080" stroke-width="1.2" />
<text transform="translate(687.6,337.9) scale(0.95,1)" font-size="6" fill="#2b2b2b" font-weight="normal" text-anchor="middle" stroke="#2b2b2b" stroke-width="0.25">V</text>
<text transform="translate(687.6,345.9) scale(0.95,1)" font-size="6" fill="#2b2b2b" font-weight="normal" text-anchor="middle" stroke="#2b2b2b" stroke-width="0.25">I</text>
<text transform="translate(687.6,353.9) scale(0.95,1)" font-size="6" fill="#2b2b2b" font-weight="normal" text-anchor="middle" stroke="#2b2b2b" stroke-width="0.25">K</text>
<text transform="translate(687.6,361.9) scale(0.95,1)" font-size="6" fill="#2b2b2b" font-weight="normal" text-anchor="middle" stroke="#2b2b2b" stroke-width="0.25">H</text>
<text transform="translate(687.6,369.9) scale(0.95,1)" font-size="6" fill="#2b2b2b" font-weight="normal" text-anchor="middle" stroke="#2b2b2b" stroke-width="0.25">R</text>
<text transform="translate(687.6,377.9) scale(0.95,1)" font-size="6" fill="#2b2b2b" font-weight="normal" text-anchor="middle" stroke="#2b2b2b" stroke-width="0.25">O</text>
<text transform="translate(687.6,385.9) scale(0.95,1)" font-size="6" fill="#2b2b2b" font-weight="normal" text-anchor="middle" stroke="#2b2b2b" stroke-width="0.25">L</text>
<text transform="translate(687.6,393.9) scale(0.95,1)" font-size="6" fill="#2b2b2b" font-weight="normal" text-anchor="middle" stroke="#2b2b2b" stroke-width="0.25">I</text>
<rect x="845.5" y="328.2" width="9.4" height="74.8" fill="#fff" stroke="#808080" stroke-width="1.2" />
<text transform="translate(850.2,338.5) scale(0.95,1)" font-size="6" fill="#2b2b2b" font-weight="normal" text-anchor="middle" stroke="#2b2b2b" stroke-width="0.25">K</text>
<text transform="translate(850.2,346.5) scale(0.95,1)" font-size="6" fill="#2b2b2b" font-weight="normal" text-anchor="middle" stroke="#2b2b2b" stroke-width="0.25">U</text>
<text transform="translate(850.2,354.6) scale(0.95,1)" font-size="6" fill="#2b2b2b" font-weight="normal" text-anchor="middle" stroke="#2b2b2b" stroke-width="0.25">R</text>
<text transform="translate(850.2,362.6) scale(0.95,1)" font-size="6" fill="#2b2b2b" font-weight="normal" text-anchor="middle" stroke="#2b2b2b" stroke-width="0.25">L</text>
<text transform="translate(850.2,370.7) scale(0.95,1)" font-size="6" fill="#2b2b2b" font-weight="normal" text-anchor="middle" stroke="#2b2b2b" stroke-width="0.25">A</text>
<text transform="translate(850.2,386.8) scale(0.95,1)" font-size="6" fill="#2b2b2b" font-weight="normal" text-anchor="middle" stroke="#2b2b2b" stroke-width="0.25">J</text>
<text transform="translate(850.2,394.8) scale(0.95,1)" font-size="6" fill="#2b2b2b" font-weight="normal" text-anchor="middle" stroke="#2b2b2b" stroke-width="0.25">N</text>
<rect x="996.1" y="374.2" width="13.4" height="135.3" fill="#fff" stroke="#808080" stroke-width="1.2" />
<text transform="translate(1002.8,398.7) scale(0.95,1)" font-size="5.6" fill="#111" font-weight="bold" text-anchor="middle" stroke="#111" stroke-width="0.25">D</text>
<text transform="translate(1002.8,422.7) scale(0.95,1)" font-size="5.6" fill="#111" font-weight="bold" text-anchor="middle" stroke="#111" stroke-width="0.25">A</text>
<text transform="translate(1002.8,446.7) scale(0.95,1)" font-size="5.6" fill="#111" font-weight="bold" text-anchor="middle" stroke="#111" stroke-width="0.25">D</text>
<text transform="translate(1002.8,470.7) scale(0.95,1)" font-size="5.6" fill="#111" font-weight="bold" text-anchor="middle" stroke="#111" stroke-width="0.25">A</text>
<text transform="translate(1002.8,494.7) scale(0.95,1)" font-size="5.6" fill="#111" font-weight="bold" text-anchor="middle" stroke="#111" stroke-width="0.25">R</text>
<rect x="1024.5" y="283.5" width="14.6" height="51.5" fill="#fff" stroke="#808080" stroke-width="1.2" />
<text transform="translate(1030.0,292.4) scale(0.95,1)" font-size="5.6" fill="#2b2b2b" font-weight="normal" text-anchor="middle" stroke="#2b2b2b" stroke-width="0.25">W</text>
<text transform="translate(1030.0,300.4) scale(0.95,1)" font-size="5.6" fill="#2b2b2b" font-weight="normal" text-anchor="middle" stroke="#2b2b2b" stroke-width="0.25">A</text>
<text transform="translate(1030.0,308.4) scale(0.95,1)" font-size="5.6" fill="#2b2b2b" font-weight="normal" text-anchor="middle" stroke="#2b2b2b" stroke-width="0.25">D</text>
<text transform="translate(1030.0,316.4) scale(0.95,1)" font-size="5.6" fill="#2b2b2b" font-weight="normal" text-anchor="middle" stroke="#2b2b2b" stroke-width="0.25">A</text>
<text transform="translate(1030.0,324.4) scale(0.95,1)" font-size="5.6" fill="#2b2b2b" font-weight="normal" text-anchor="middle" stroke="#2b2b2b" stroke-width="0.25">L</text>
<text transform="translate(1030.0,332.4) scale(0.95,1)" font-size="5.6" fill="#2b2b2b" font-weight="normal" text-anchor="middle" stroke="#2b2b2b" stroke-width="0.25">A</text>
<text transform="translate(1035.0,300.5) scale(0.95,1)" font-size="5.6" fill="#2b2b2b" font-weight="normal" text-anchor="middle" stroke="#2b2b2b" stroke-width="0.25">R</text>
<text transform="translate(1035.0,308.5) scale(0.95,1)" font-size="5.6" fill="#2b2b2b" font-weight="normal" text-anchor="middle" stroke="#2b2b2b" stroke-width="0.25">O</text>
<text transform="translate(1035.0,316.5) scale(0.95,1)" font-size="5.6" fill="#2b2b2b" font-weight="normal" text-anchor="middle" stroke="#2b2b2b" stroke-width="0.25">A</text>
<text transform="translate(1035.0,324.5) scale(0.95,1)" font-size="5.6" fill="#2b2b2b" font-weight="normal" text-anchor="middle" stroke="#2b2b2b" stroke-width="0.25">D</text>
<rect x="1079.8" y="369.5" width="12.5" height="59.2" fill="#fff" stroke="#808080" stroke-width="1.2" />
<text transform="translate(1086.2,383.3) scale(0.95,1)" font-size="6" fill="#2b2b2b" font-weight="normal" text-anchor="middle" stroke="#2b2b2b" stroke-width="0.25">B</text>
<text transform="translate(1086.2,391.4) scale(0.95,1)" font-size="6" fill="#2b2b2b" font-weight="normal" text-anchor="middle" stroke="#2b2b2b" stroke-width="0.25">Y</text>
<text transform="translate(1086.2,399.5) scale(0.95,1)" font-size="6" fill="#2b2b2b" font-weight="normal" text-anchor="middle" stroke="#2b2b2b" stroke-width="0.25">C</text>
<text transform="translate(1086.2,407.6) scale(0.95,1)" font-size="6" fill="#2b2b2b" font-weight="normal" text-anchor="middle" stroke="#2b2b2b" stroke-width="0.25">U</text>
<text transform="translate(1086.2,415.7) scale(0.95,1)" font-size="6" fill="#2b2b2b" font-weight="normal" text-anchor="middle" stroke="#2b2b2b" stroke-width="0.25">L</text>
<text transform="translate(1086.2,423.8) scale(0.95,1)" font-size="6" fill="#2b2b2b" font-weight="normal" text-anchor="middle" stroke="#2b2b2b" stroke-width="0.25">A</text>
<rect x="1185.3" y="357.6" width="9.2" height="73.3" fill="#fff" stroke="#808080" stroke-width="1.2" />
<text transform="translate(1190.0,371.4) scale(0.95,1)" font-size="5.2" fill="#2b2b2b" font-weight="normal" text-anchor="middle" stroke="#2b2b2b" stroke-width="0.25">M</text>
<text transform="translate(1190.0,384.2) scale(0.95,1)" font-size="5.2" fill="#2b2b2b" font-weight="normal" text-anchor="middle" stroke="#2b2b2b" stroke-width="0.25">A</text>
<text transform="translate(1190.0,396.4) scale(0.95,1)" font-size="5.2" fill="#2b2b2b" font-weight="normal" text-anchor="middle" stroke="#2b2b2b" stroke-width="0.25">S</text>
<text transform="translate(1190.0,409.0) scale(0.95,1)" font-size="5.2" fill="#2b2b2b" font-weight="normal" text-anchor="middle" stroke="#2b2b2b" stroke-width="0.25">J</text>
<text transform="translate(1190.0,421.2) scale(0.95,1)" font-size="5.2" fill="#2b2b2b" font-weight="normal" text-anchor="middle" stroke="#2b2b2b" stroke-width="0.25">I</text>
<text transform="translate(1190.0,429.6) scale(0.95,1)" font-size="5.2" fill="#2b2b2b" font-weight="normal" text-anchor="middle" stroke="#2b2b2b" stroke-width="0.25">D</text>
<rect x="1223.3" y="344.1" width="21.2" height="92.4" fill="#fff" stroke="#808080" stroke-width="1.2" />
<text transform="translate(1228.5,354.2) scale(0.95,1)" font-size="5.6" fill="#2b2b2b" font-weight="normal" text-anchor="middle" stroke="#2b2b2b" stroke-width="0.25">C</text>
<text transform="translate(1228.5,362.2) scale(0.95,1)" font-size="5.6" fill="#2b2b2b" font-weight="normal" text-anchor="middle" stroke="#2b2b2b" stroke-width="0.25">H</text>
<text transform="translate(1228.5,370.1) scale(0.95,1)" font-size="5.6" fill="#2b2b2b" font-weight="normal" text-anchor="middle" stroke="#2b2b2b" stroke-width="0.25">A</text>
<text transform="translate(1228.5,378.1) scale(0.95,1)" font-size="5.6" fill="#2b2b2b" font-weight="normal" text-anchor="middle" stroke="#2b2b2b" stroke-width="0.25">T</text>
<text transform="translate(1228.5,386.0) scale(0.95,1)" font-size="5.6" fill="#2b2b2b" font-weight="normal" text-anchor="middle" stroke="#2b2b2b" stroke-width="0.25">H</text>
<text transform="translate(1228.5,394.0) scale(0.95,1)" font-size="5.6" fill="#2b2b2b" font-weight="normal" text-anchor="middle" stroke="#2b2b2b" stroke-width="0.25">R</text>
<text transform="translate(1228.5,401.9) scale(0.95,1)" font-size="5.6" fill="#2b2b2b" font-weight="normal" text-anchor="middle" stroke="#2b2b2b" stroke-width="0.25">A</text>
<text transform="translate(1228.5,409.9) scale(0.95,1)" font-size="5.6" fill="#2b2b2b" font-weight="normal" text-anchor="middle" stroke="#2b2b2b" stroke-width="0.25">P</text>
<text transform="translate(1228.5,417.8) scale(0.95,1)" font-size="5.6" fill="#2b2b2b" font-weight="normal" text-anchor="middle" stroke="#2b2b2b" stroke-width="0.25">A</text>
<text transform="translate(1228.5,425.8) scale(0.95,1)" font-size="5.6" fill="#2b2b2b" font-weight="normal" text-anchor="middle" stroke="#2b2b2b" stroke-width="0.25">T</text>
<text transform="translate(1228.5,433.7) scale(0.95,1)" font-size="5.6" fill="#2b2b2b" font-weight="normal" text-anchor="middle" stroke="#2b2b2b" stroke-width="0.25">I</text>
<text transform="translate(1233.3,370.2) scale(0.95,1)" font-size="5.6" fill="#2b2b2b" font-weight="normal" text-anchor="middle" stroke="#2b2b2b" stroke-width="0.25">S</text>
<text transform="translate(1233.3,378.2) scale(0.95,1)" font-size="5.6" fill="#2b2b2b" font-weight="normal" text-anchor="middle" stroke="#2b2b2b" stroke-width="0.25">H</text>
<text transform="translate(1233.3,386.1) scale(0.95,1)" font-size="5.6" fill="#2b2b2b" font-weight="normal" text-anchor="middle" stroke="#2b2b2b" stroke-width="0.25">I</text>
<text transform="translate(1233.3,394.1) scale(0.95,1)" font-size="5.6" fill="#2b2b2b" font-weight="normal" text-anchor="middle" stroke="#2b2b2b" stroke-width="0.25">V</text>
<text transform="translate(1233.3,402.0) scale(0.95,1)" font-size="5.6" fill="#2b2b2b" font-weight="normal" text-anchor="middle" stroke="#2b2b2b" stroke-width="0.25">A</text>
<text transform="translate(1233.3,410.0) scale(0.95,1)" font-size="5.6" fill="#2b2b2b" font-weight="normal" text-anchor="middle" stroke="#2b2b2b" stroke-width="0.25">J</text>
<text transform="translate(1233.3,417.9) scale(0.95,1)" font-size="5.6" fill="#2b2b2b" font-weight="normal" text-anchor="middle" stroke="#2b2b2b" stroke-width="0.25">I</text>
<text transform="translate(1239.3,362.0) scale(0.95,1)" font-size="5.6" fill="#2b2b2b" font-weight="normal" text-anchor="middle" stroke="#2b2b2b" stroke-width="0.25">T</text>
<text transform="translate(1239.3,370.0) scale(0.95,1)" font-size="5.6" fill="#2b2b2b" font-weight="normal" text-anchor="middle" stroke="#2b2b2b" stroke-width="0.25">E</text>
<text transform="translate(1239.3,377.9) scale(0.95,1)" font-size="5.6" fill="#2b2b2b" font-weight="normal" text-anchor="middle" stroke="#2b2b2b" stroke-width="0.25">R</text>
<text transform="translate(1239.3,385.9) scale(0.95,1)" font-size="5.6" fill="#2b2b2b" font-weight="normal" text-anchor="middle" stroke="#2b2b2b" stroke-width="0.25">M</text>
<text transform="translate(1239.3,393.8) scale(0.95,1)" font-size="5.6" fill="#2b2b2b" font-weight="normal" text-anchor="middle" stroke="#2b2b2b" stroke-width="0.25">I</text>
<text transform="translate(1239.3,401.8) scale(0.95,1)" font-size="5.6" fill="#2b2b2b" font-weight="normal" text-anchor="middle" stroke="#2b2b2b" stroke-width="0.25">N</text>
<text transform="translate(1239.3,409.7) scale(0.95,1)" font-size="5.6" fill="#2b2b2b" font-weight="normal" text-anchor="middle" stroke="#2b2b2b" stroke-width="0.25">U</text>
<text transform="translate(1239.3,417.7) scale(0.95,1)" font-size="5.6" fill="#2b2b2b" font-weight="normal" text-anchor="middle" stroke="#2b2b2b" stroke-width="0.25">S</text>
<rect x="1096.8" y="449.1" width="21.2" height="61.5" fill="#fff" stroke="#808080" stroke-width="1.2" />
<text transform="translate(1103.3,466.2) scale(0.95,1)" font-size="5.6" fill="#2b2b2b" font-weight="normal" text-anchor="middle" stroke="#2b2b2b" stroke-width="0.25">M</text>
<text transform="translate(1103.3,474.1) scale(0.95,1)" font-size="5.6" fill="#2b2b2b" font-weight="normal" text-anchor="middle" stroke="#2b2b2b" stroke-width="0.25">U</text>
<text transform="translate(1103.3,481.9) scale(0.95,1)" font-size="5.6" fill="#2b2b2b" font-weight="normal" text-anchor="middle" stroke="#2b2b2b" stroke-width="0.25">M</text>
<text transform="translate(1103.3,489.8) scale(0.95,1)" font-size="5.6" fill="#2b2b2b" font-weight="normal" text-anchor="middle" stroke="#2b2b2b" stroke-width="0.25">B</text>
<text transform="translate(1103.3,497.6) scale(0.95,1)" font-size="5.6" fill="#2b2b2b" font-weight="normal" text-anchor="middle" stroke="#2b2b2b" stroke-width="0.25">A</text>
<text transform="translate(1103.3,505.5) scale(0.95,1)" font-size="5.6" fill="#2b2b2b" font-weight="normal" text-anchor="middle" stroke="#2b2b2b" stroke-width="0.25">I</text>
<text transform="translate(1111.0,461.5) scale(0.95,1)" font-size="5.6" fill="#2b2b2b" font-weight="normal" text-anchor="middle" stroke="#2b2b2b" stroke-width="0.25">C</text>
<text transform="translate(1111.0,469.4) scale(0.95,1)" font-size="5.6" fill="#2b2b2b" font-weight="normal" text-anchor="middle" stroke="#2b2b2b" stroke-width="0.25">E</text>
<text transform="translate(1111.0,477.3) scale(0.95,1)" font-size="5.6" fill="#2b2b2b" font-weight="normal" text-anchor="middle" stroke="#2b2b2b" stroke-width="0.25">N</text>
<text transform="translate(1111.0,485.2) scale(0.95,1)" font-size="5.6" fill="#2b2b2b" font-weight="normal" text-anchor="middle" stroke="#2b2b2b" stroke-width="0.25">T</text>
<text transform="translate(1111.0,493.1) scale(0.95,1)" font-size="5.6" fill="#2b2b2b" font-weight="normal" text-anchor="middle" stroke="#2b2b2b" stroke-width="0.25">R</text>
<text transform="translate(1111.0,501.0) scale(0.95,1)" font-size="5.6" fill="#2b2b2b" font-weight="normal" text-anchor="middle" stroke="#2b2b2b" stroke-width="0.25">A</text>
<text transform="translate(1111.0,508.9) scale(0.95,1)" font-size="5.6" fill="#2b2b2b" font-weight="normal" text-anchor="middle" stroke="#2b2b2b" stroke-width="0.25">L</text>
<rect x="1222.3" y="448.2" width="17.9" height="63.5" fill="#fff" stroke="#808080" stroke-width="1.2" />
<text transform="translate(1230.2,466.2) scale(0.95,1)" font-size="5.6" fill="#2b2b2b" font-weight="normal" text-anchor="middle" stroke="#2b2b2b" stroke-width="0.25">C</text>
<text transform="translate(1230.2,474.2) scale(0.95,1)" font-size="5.6" fill="#2b2b2b" font-weight="normal" text-anchor="middle" stroke="#2b2b2b" stroke-width="0.25">H</text>
<text transform="translate(1230.2,482.2) scale(0.95,1)" font-size="5.6" fill="#2b2b2b" font-weight="normal" text-anchor="middle" stroke="#2b2b2b" stroke-width="0.25">U</text>
<text transform="translate(1230.2,490.2) scale(0.95,1)" font-size="5.6" fill="#2b2b2b" font-weight="normal" text-anchor="middle" stroke="#2b2b2b" stroke-width="0.25">R</text>
<text transform="translate(1230.2,498.2) scale(0.95,1)" font-size="5.6" fill="#2b2b2b" font-weight="normal" text-anchor="middle" stroke="#2b2b2b" stroke-width="0.25">C</text>
<text transform="translate(1230.2,506.2) scale(0.95,1)" font-size="5.6" fill="#2b2b2b" font-weight="normal" text-anchor="middle" stroke="#2b2b2b" stroke-width="0.25">H</text>
<text transform="translate(1235.6,474.1) scale(0.95,1)" font-size="5.6" fill="#2b2b2b" font-weight="normal" text-anchor="middle" stroke="#2b2b2b" stroke-width="0.25">G</text>
<text transform="translate(1235.6,482.1) scale(0.95,1)" font-size="5.6" fill="#2b2b2b" font-weight="normal" text-anchor="middle" stroke="#2b2b2b" stroke-width="0.25">A</text>
<text transform="translate(1235.6,490.1) scale(0.95,1)" font-size="5.6" fill="#2b2b2b" font-weight="normal" text-anchor="middle" stroke="#2b2b2b" stroke-width="0.25">T</text>
<text transform="translate(1235.6,498.1) scale(0.95,1)" font-size="5.6" fill="#2b2b2b" font-weight="normal" text-anchor="middle" stroke="#2b2b2b" stroke-width="0.25">E</text>
<rect x="527.2" y="431.1" width="14.1" height="72.4" fill="#fff" stroke="#808080" stroke-width="1.2" />
<text transform="translate(534.3,444.9) scale(0.95,1)" font-size="6" fill="#2b2b2b" font-weight="normal" text-anchor="middle" stroke="#2b2b2b" stroke-width="0.25">B</text>
<text transform="translate(534.3,452.9) scale(0.95,1)" font-size="6" fill="#2b2b2b" font-weight="normal" text-anchor="middle" stroke="#2b2b2b" stroke-width="0.25">O</text>
<text transform="translate(534.3,460.9) scale(0.95,1)" font-size="6" fill="#2b2b2b" font-weight="normal" text-anchor="middle" stroke="#2b2b2b" stroke-width="0.25">R</text>
<text transform="translate(534.3,468.9) scale(0.95,1)" font-size="6" fill="#2b2b2b" font-weight="normal" text-anchor="middle" stroke="#2b2b2b" stroke-width="0.25">I</text>
<text transform="translate(534.3,476.9) scale(0.95,1)" font-size="6" fill="#2b2b2b" font-weight="normal" text-anchor="middle" stroke="#2b2b2b" stroke-width="0.25">V</text>
<text transform="translate(534.3,484.9) scale(0.95,1)" font-size="6" fill="#2b2b2b" font-weight="normal" text-anchor="middle" stroke="#2b2b2b" stroke-width="0.25">A</text>
<text transform="translate(534.3,492.9) scale(0.95,1)" font-size="6" fill="#2b2b2b" font-weight="normal" text-anchor="middle" stroke="#2b2b2b" stroke-width="0.25">L</text>
<text transform="translate(534.3,500.9) scale(0.95,1)" font-size="6" fill="#2b2b2b" font-weight="normal" text-anchor="middle" stroke="#2b2b2b" stroke-width="0.25">I</text>
<rect x="758.5" y="439.7" width="12.4" height="79.8" fill="#fff" stroke="#808080" stroke-width="1.2" />
<text transform="translate(764.6,455.7) scale(0.95,1)" font-size="6" fill="#2b2b2b" font-weight="normal" text-anchor="middle" stroke="#2b2b2b" stroke-width="0.25">A</text>
<text transform="translate(764.6,463.6) scale(0.95,1)" font-size="6" fill="#2b2b2b" font-weight="normal" text-anchor="middle" stroke="#2b2b2b" stroke-width="0.25">N</text>
<text transform="translate(764.6,471.5) scale(0.95,1)" font-size="6" fill="#2b2b2b" font-weight="normal" text-anchor="middle" stroke="#2b2b2b" stroke-width="0.25">D</text>
<text transform="translate(764.6,479.4) scale(0.95,1)" font-size="6" fill="#2b2b2b" font-weight="normal" text-anchor="middle" stroke="#2b2b2b" stroke-width="0.25">H</text>
<text transform="translate(764.6,487.3) scale(0.95,1)" font-size="6" fill="#2b2b2b" font-weight="normal" text-anchor="middle" stroke="#2b2b2b" stroke-width="0.25">E</text>
<text transform="translate(764.6,495.2) scale(0.95,1)" font-size="6" fill="#2b2b2b" font-weight="normal" text-anchor="middle" stroke="#2b2b2b" stroke-width="0.25">R</text>
<text transform="translate(764.6,503.1) scale(0.95,1)" font-size="6" fill="#2b2b2b" font-weight="normal" text-anchor="middle" stroke="#2b2b2b" stroke-width="0.25">I</text>
<rect x="840.3" y="447.0" width="9.4" height="74.0" fill="#fff" stroke="#808080" stroke-width="1.2" />
<text transform="translate(845.2,466.7) scale(0.95,1)" font-size="6" fill="#2b2b2b" font-weight="normal" text-anchor="middle" stroke="#2b2b2b" stroke-width="0.25">B</text>
<text transform="translate(845.2,474.6) scale(0.95,1)" font-size="6" fill="#2b2b2b" font-weight="normal" text-anchor="middle" stroke="#2b2b2b" stroke-width="0.25">A</text>
<text transform="translate(845.2,482.6) scale(0.95,1)" font-size="6" fill="#2b2b2b" font-weight="normal" text-anchor="middle" stroke="#2b2b2b" stroke-width="0.25">N</text>
<text transform="translate(845.2,490.5) scale(0.95,1)" font-size="6" fill="#2b2b2b" font-weight="normal" text-anchor="middle" stroke="#2b2b2b" stroke-width="0.25">D</text>
<text transform="translate(845.2,498.5) scale(0.95,1)" font-size="6" fill="#2b2b2b" font-weight="normal" text-anchor="middle" stroke="#2b2b2b" stroke-width="0.25">R</text>
<text transform="translate(845.2,506.4) scale(0.95,1)" font-size="6" fill="#2b2b2b" font-weight="normal" text-anchor="middle" stroke="#2b2b2b" stroke-width="0.25">A</text>
<rect x="874.3" y="447.2" width="14.3" height="74.8" fill="#fff" stroke="#808080" stroke-width="1.2" />
<text transform="translate(878.6,474.0) scale(0.95,1)" font-size="5.6" fill="#2b2b2b" font-weight="normal" text-anchor="middle" stroke="#2b2b2b" stroke-width="0.25">M</text>
<text transform="translate(878.6,482.1) scale(0.95,1)" font-size="5.6" fill="#2b2b2b" font-weight="normal" text-anchor="middle" stroke="#2b2b2b" stroke-width="0.25">A</text>
<text transform="translate(878.6,490.1) scale(0.95,1)" font-size="5.6" fill="#2b2b2b" font-weight="normal" text-anchor="middle" stroke="#2b2b2b" stroke-width="0.25">H</text>
<text transform="translate(878.6,498.2) scale(0.95,1)" font-size="5.6" fill="#2b2b2b" font-weight="normal" text-anchor="middle" stroke="#2b2b2b" stroke-width="0.25">I</text>
<text transform="translate(878.6,506.2) scale(0.95,1)" font-size="5.6" fill="#2b2b2b" font-weight="normal" text-anchor="middle" stroke="#2b2b2b" stroke-width="0.25">M</text>
<text transform="translate(884.5,462.4) scale(0.95,1)" font-size="5.6" fill="#2b2b2b" font-weight="normal" text-anchor="middle" stroke="#2b2b2b" stroke-width="0.25">J</text>
<text transform="translate(884.5,470.3) scale(0.95,1)" font-size="5.6" fill="#2b2b2b" font-weight="normal" text-anchor="middle" stroke="#2b2b2b" stroke-width="0.25">U</text>
<text transform="translate(884.5,478.2) scale(0.95,1)" font-size="5.6" fill="#2b2b2b" font-weight="normal" text-anchor="middle" stroke="#2b2b2b" stroke-width="0.25">N</text>
<text transform="translate(884.5,486.1) scale(0.95,1)" font-size="5.6" fill="#2b2b2b" font-weight="normal" text-anchor="middle" stroke="#2b2b2b" stroke-width="0.25">C</text>
<text transform="translate(884.5,494.0) scale(0.95,1)" font-size="5.6" fill="#2b2b2b" font-weight="normal" text-anchor="middle" stroke="#2b2b2b" stroke-width="0.25">T</text>
<text transform="translate(884.5,501.9) scale(0.95,1)" font-size="5.6" fill="#2b2b2b" font-weight="normal" text-anchor="middle" stroke="#2b2b2b" stroke-width="0.25">I</text>
<text transform="translate(884.5,509.8) scale(0.95,1)" font-size="5.6" fill="#2b2b2b" font-weight="normal" text-anchor="middle" stroke="#2b2b2b" stroke-width="0.25">O</text>
<text transform="translate(884.5,517.7) scale(0.95,1)" font-size="5.6" fill="#2b2b2b" font-weight="normal" text-anchor="middle" stroke="#2b2b2b" stroke-width="0.25">N</text>
<rect x="465.3" y="140.0" width="9.3" height="60.3" fill="#fff" stroke="#808080" stroke-width="1.2" />
<text transform="translate(467.6,164.8) scale(0.95,1)" font-size="5.8" fill="#2b2b2b" font-weight="normal" text-anchor="middle" stroke="#2b2b2b" stroke-width="0.25">C</text>
<text transform="translate(467.6,172.8) scale(0.95,1)" font-size="5.8" fill="#2b2b2b" font-weight="normal" text-anchor="middle" stroke="#2b2b2b" stroke-width="0.25">B</text>
<text transform="translate(467.6,180.8) scale(0.95,1)" font-size="5.8" fill="#2b2b2b" font-weight="normal" text-anchor="middle" stroke="#2b2b2b" stroke-width="0.25">D</text>
<text transform="translate(472.2,148.6) scale(0.95,1)" font-size="5.8" fill="#2b2b2b" font-weight="normal" text-anchor="middle" stroke="#2b2b2b" stroke-width="0.25">B</text>
<text transform="translate(472.2,156.6) scale(0.95,1)" font-size="5.8" fill="#2b2b2b" font-weight="normal" text-anchor="middle" stroke="#2b2b2b" stroke-width="0.25">E</text>
<text transform="translate(472.2,164.6) scale(0.95,1)" font-size="5.8" fill="#2b2b2b" font-weight="normal" text-anchor="middle" stroke="#2b2b2b" stroke-width="0.25">L</text>
<text transform="translate(472.2,172.6) scale(0.95,1)" font-size="5.8" fill="#2b2b2b" font-weight="normal" text-anchor="middle" stroke="#2b2b2b" stroke-width="0.25">A</text>
<text transform="translate(472.2,180.6) scale(0.95,1)" font-size="5.8" fill="#2b2b2b" font-weight="normal" text-anchor="middle" stroke="#2b2b2b" stroke-width="0.25">P</text>
<text transform="translate(472.2,188.6) scale(0.95,1)" font-size="5.8" fill="#2b2b2b" font-weight="normal" text-anchor="middle" stroke="#2b2b2b" stroke-width="0.25">U</text>
<text transform="translate(472.2,196.6) scale(0.95,1)" font-size="5.8" fill="#2b2b2b" font-weight="normal" text-anchor="middle" stroke="#2b2b2b" stroke-width="0.25">R</text>
<g transform="translate(511.0,183.0) rotate(-45.0)">
<rect x="-16.0" y="-4.0" width="32.0" height="8.0" fill="#fff" stroke="#808080" stroke-width="1.2"/>
<text x="-11.2" y="2.1" font-size="5.7" fill="#2b2b2b" text-anchor="middle" stroke="#2b2b2b" stroke-width="0.12" >N</text>
<text x="-5.6" y="2.1" font-size="5.7" fill="#2b2b2b" text-anchor="middle" stroke="#2b2b2b" stroke-width="0.12" >E</text>
<text x="0.0" y="2.1" font-size="5.7" fill="#2b2b2b" text-anchor="middle" stroke="#2b2b2b" stroke-width="0.12" >R</text>
<text x="5.6" y="2.1" font-size="5.7" fill="#2b2b2b" text-anchor="middle" stroke="#2b2b2b" stroke-width="0.12" >U</text>
<text x="11.2" y="2.1" font-size="5.7" fill="#2b2b2b" text-anchor="middle" stroke="#2b2b2b" stroke-width="0.12" >L</text>
</g>
<g transform="translate(510.5,235.2) rotate(40.5)">
<rect x="-25.2" y="-3.8" width="50.5" height="7.6" fill="#fff" stroke="#808080" stroke-width="1.2"/>
<text x="-19.0" y="2.1" font-size="5.7" fill="#2b2b2b" text-anchor="middle" stroke="#2b2b2b" stroke-width="0.12" >T</text>
<text x="-11.4" y="2.1" font-size="5.7" fill="#2b2b2b" text-anchor="middle" stroke="#2b2b2b" stroke-width="0.12" >U</text>
<text x="-3.8" y="2.1" font-size="5.7" fill="#2b2b2b" text-anchor="middle" stroke="#2b2b2b" stroke-width="0.12" >R</text>
<text x="3.8" y="2.1" font-size="5.7" fill="#2b2b2b" text-anchor="middle" stroke="#2b2b2b" stroke-width="0.12" >B</text>
<text x="11.4" y="2.1" font-size="5.7" fill="#2b2b2b" text-anchor="middle" stroke="#2b2b2b" stroke-width="0.12" >H</text>
<text x="19.0" y="2.1" font-size="5.7" fill="#2b2b2b" text-anchor="middle" stroke="#2b2b2b" stroke-width="0.12" >E</text>
</g>
<g transform="translate(565.5,220.2) rotate(-55.4)">
<rect x="-16.6" y="-4.1" width="33.3" height="8.2" fill="#fff" stroke="#808080" stroke-width="1.2"/>
<text x="-11.2" y="2.1" font-size="5.7" fill="#2b2b2b" text-anchor="middle" stroke="#2b2b2b" stroke-width="0.12" >V</text>
<text x="-5.6" y="2.1" font-size="5.7" fill="#2b2b2b" text-anchor="middle" stroke="#2b2b2b" stroke-width="0.12" >A</text>
<text x="0.0" y="2.1" font-size="5.7" fill="#2b2b2b" text-anchor="middle" stroke="#2b2b2b" stroke-width="0.12" >S</text>
<text x="5.6" y="2.1" font-size="5.7" fill="#2b2b2b" text-anchor="middle" stroke="#2b2b2b" stroke-width="0.12" >H</text>
<text x="11.2" y="2.1" font-size="5.7" fill="#2b2b2b" text-anchor="middle" stroke="#2b2b2b" stroke-width="0.12" >I</text>
</g>
<g transform="translate(355.4,399.4) rotate(-33.0)">
<rect x="-17.3" y="-4.3" width="34.6" height="8.6" fill="#fff" stroke="#808080" stroke-width="1.2"/>
<text x="-12.2" y="1.9" font-size="5.4" fill="#2b2b2b" text-anchor="middle" stroke="#2b2b2b" stroke-width="0.12" font-style="italic">M</text>
<text x="-7.4" y="1.9" font-size="5.4" fill="#2b2b2b" text-anchor="middle" stroke="#2b2b2b" stroke-width="0.12" font-style="italic">U</text>
<text x="-2.5" y="1.9" font-size="5.4" fill="#2b2b2b" text-anchor="middle" stroke="#2b2b2b" stroke-width="0.12" font-style="italic">M</text>
<text x="2.5" y="1.9" font-size="5.4" fill="#2b2b2b" text-anchor="middle" stroke="#2b2b2b" stroke-width="0.12" font-style="italic">B</text>
<text x="7.4" y="1.9" font-size="5.4" fill="#2b2b2b" text-anchor="middle" stroke="#2b2b2b" stroke-width="0.12" font-style="italic">R</text>
<text x="12.2" y="1.9" font-size="5.4" fill="#2b2b2b" text-anchor="middle" stroke="#2b2b2b" stroke-width="0.12" font-style="italic">A</text>
</g>
<g transform="translate(415.6,389.0) rotate(40.0)">
<rect x="-15.0" y="-3.4" width="30.0" height="6.8" fill="#fff" stroke="#808080" stroke-width="1.2"/>
<text x="-10.0" y="2.1" font-size="5.8" fill="#2b2b2b" text-anchor="middle" stroke="#2b2b2b" stroke-width="0.12" >K</text>
<text x="-5.0" y="2.1" font-size="5.8" fill="#2b2b2b" text-anchor="middle" stroke="#2b2b2b" stroke-width="0.12" >A</text>
<text x="0.0" y="2.1" font-size="5.8" fill="#2b2b2b" text-anchor="middle" stroke="#2b2b2b" stroke-width="0.12" >L</text>
<text x="5.0" y="2.1" font-size="5.8" fill="#2b2b2b" text-anchor="middle" stroke="#2b2b2b" stroke-width="0.12" >V</text>
<text x="10.0" y="2.1" font-size="5.8" fill="#2b2b2b" text-anchor="middle" stroke="#2b2b2b" stroke-width="0.12" >A</text>
</g>
<circle cx="130.8" cy="336.2" r="4.9" fill="#c3c3c3" stroke="#111" stroke-width="1.3"/>
<circle cx="130.1" cy="355.5" r="4.9" fill="#22b14c" stroke="#111" stroke-width="1.3"/>
<circle cx="782.4" cy="321.2" r="6.3" fill="#000"/>
<circle cx="875.1" cy="260.7" r="4" fill="#000"/>
<circle cx="842" cy="442" r="3.6" fill="#000"/>
<rect x="797.6" y="332.1" width="9.2" height="5.7" fill="#000" stroke="none" stroke-width="0" />
<rect x="752.3" y="319.6" width="3.7" height="2.4" fill="#000" stroke="none" stroke-width="0" />
<polyline points="797.0,285.1 803.5,332.0" stroke="#555" stroke-width="0.7" />
<polyline points="816.3,300.0 804.5,331.0" stroke="#555" stroke-width="0.7" />
<polyline points="737.3,325.5 752.3,321.0" stroke="#555" stroke-width="0.7" />
<polyline points="767.0,306.0 777.5,316.0" stroke="#555" stroke-width="0.7" />
<polyline points="803.3,318.0 800.0,327.0 789.5,337.0" stroke="#666" stroke-width="0.7" />
<polyline points="806.8,334.0 811.0,333.5 813.0,335.5" stroke="#777" stroke-width="0.9" />
<polyline points="807.5,336.0 814.5,344.0" stroke="#777" stroke-width="0.9" />
<polyline points="846.9,427.6 842.0,438.6" stroke="#555" stroke-width="0.7" />
<polyline points="1004.0,327.0 1020.0,341.0" stroke="#555" stroke-width="0.7" />
<polyline points="1027.5,370.0 1018.0,390.0" stroke="#555" stroke-width="0.7" />
</g>
<g id="labels">
<rect x="177.6" y="329.1" width="48.9" height="23.4" fill="#fff" stroke="#8fd6a1" stroke-width="1" />
<text transform="translate(197.6,334.8) scale(0.88,1)" font-size="6.1" fill="#3cb85a" font-weight="normal" text-anchor="middle" stroke="#3cb85a" stroke-width="0.22" >KALYAN</text>
<text transform="translate(200.8,342.7) scale(0.88,1)" font-size="6.1" fill="#3cb85a" font-weight="normal" text-anchor="middle" stroke="#3cb85a" stroke-width="0.22" >FREIGHT YARD</text>
<text transform="translate(200.6,350.6) scale(0.88,1)" font-size="6.1" fill="#3cb85a" font-weight="normal" text-anchor="middle" stroke="#3cb85a" stroke-width="0.22" >UNDER 25KV AC</text>
<rect x="177.6" y="355.0" width="48.9" height="33.1" fill="#fff" stroke="#8fd6a1" stroke-width="1" />
<text transform="translate(202.1,363.4) scale(0.88,1)" font-size="6.1" fill="#3cb85a" font-weight="normal" text-anchor="middle" stroke="#3cb85a" stroke-width="0.22" >KALYAN JN</text>
<text transform="translate(202.1,371.4) scale(0.88,1)" font-size="6.1" fill="#3cb85a" font-weight="normal" text-anchor="middle" stroke="#3cb85a" stroke-width="0.22" >PASS YARD</text>
<text transform="translate(202.1,379.4) scale(0.88,1)" font-size="6.1" fill="#3cb85a" font-weight="normal" text-anchor="middle" stroke="#3cb85a" stroke-width="0.22" >UNDER 25KV AC</text>
<rect x="87.8" y="328.8" width="35.4" height="13.8" fill="#fff" stroke="#e2e2e2" stroke-width="1" />
<text x="89.4" y="335.7" font-size="5.2" fill="#222" font-weight="bold" stroke="none" stroke-width="0" textLength="29.8" lengthAdjust="spacingAndGlyphs" xml:space="preserve" >Kalyan Diesel</text>
<text x="89.4" y="341.6" font-size="5.2" fill="#222" font-weight="bold" stroke="none" stroke-width="0" textLength="20.3" lengthAdjust="spacingAndGlyphs" xml:space="preserve" >LocoShed</text>
<rect x="87.8" y="346.0" width="35.8" height="12.5" fill="#fff" stroke="#8fd6a1" stroke-width="1" />
<text x="89.4" y="350.9" font-size="5.2" fill="#222" font-weight="bold" stroke="none" stroke-width="0" textLength="31.5" lengthAdjust="spacingAndGlyphs" xml:space="preserve" >Kalyan Electric</text>
<text x="89.4" y="356.9" font-size="5.2" fill="#222" font-weight="bold" stroke="none" stroke-width="0" textLength="18.9" lengthAdjust="spacingAndGlyphs" xml:space="preserve" >Locoshed</text>
<rect x="567.4" y="150.6" width="50.8" height="24.4" fill="#fff" stroke="#8fd6a1" stroke-width="1" />
<text transform="translate(569.5,158.5) scale(0.85,1)" font-size="5.4" fill="#3cb85a" font-weight="bold" text-anchor="start" stroke="#3cb85a" stroke-width="0.15" >SANPADA CARSHED</text>
<text transform="translate(569.5,165.2) scale(0.85,1)" font-size="5.4" fill="#3cb85a" font-weight="bold" text-anchor="start" stroke="#3cb85a" stroke-width="0.15" >UNDER</text>
<text transform="translate(569.5,171.8) scale(0.85,1)" font-size="5.4" fill="#3cb85a" font-weight="bold" text-anchor="start" stroke="#3cb85a" stroke-width="0.15" >25KV AC</text>
<rect x="458.6" y="273.5" width="72.4" height="22.5" fill="#e9e9e9" stroke="#808080" stroke-width="1" />
<text x="465.8" y="282.6" font-size="5" fill="#3cb85a" font-weight="bold" stroke="none" stroke-width="0" textLength="53.2" lengthAdjust="spacingAndGlyphs" xml:space="preserve" >TRANS-HARBOUR LINES</text>
<text x="465.8" y="288.8" font-size="5" fill="#3cb85a" font-weight="bold" stroke="none" stroke-width="0" textLength="53.4" lengthAdjust="spacingAndGlyphs" xml:space="preserve" >UNDER 25000 VOLTS AC</text>
<rect x="434.2" y="406.6" width="61.9" height="17.7" fill="#fff" stroke="#59c275" stroke-width="1" />
<text transform="translate(465.1,414.2) scale(1.0,1)" font-size="5.6" fill="#3cb85a" font-weight="normal" text-anchor="middle" stroke="none" >KALVA CARSHED</text>
<text transform="translate(465.1,420.7) scale(1.0,1)" font-size="5.6" fill="#3cb85a" font-weight="normal" text-anchor="middle" stroke="none" >UNDER 25000V AC</text>
<rect x="629.2" y="303.4" width="44.3" height="24.2" fill="#fff" stroke="#8fd6a1" stroke-width="1" />
<text transform="translate(631.0,310.5) scale(0.88,1)" font-size="6.2" fill="#3cb85a" font-weight="normal" text-anchor="start" stroke="#3cb85a" stroke-width="0.22" >MLND FREIGHT</text>
<text transform="translate(631.0,318.3) scale(0.88,1)" font-size="6.2" fill="#3cb85a" font-weight="normal" text-anchor="start" stroke="#3cb85a" stroke-width="0.22" >YARD UNDER</text>
<text transform="translate(631.0,326.1) scale(0.88,1)" font-size="6.2" fill="#3cb85a" font-weight="normal" text-anchor="start" stroke="#3cb85a" stroke-width="0.22" >25KV AC</text>
<rect x="715.3" y="294.5" width="50.2" height="23.9" fill="#fff" stroke="#8fd6a1" stroke-width="1" />
<text transform="translate(740.4,301.5) scale(0.88,1)" font-size="6.2" fill="#3cb85a" font-weight="normal" text-anchor="middle" stroke="#3cb85a" stroke-width="0.22" >LOKMANYA</text>
<text transform="translate(740.4,309.4) scale(0.88,1)" font-size="6.2" fill="#3cb85a" font-weight="normal" text-anchor="middle" stroke="#3cb85a" stroke-width="0.22" >TILAK TERMINUS</text>
<text transform="translate(740.4,317.3) scale(0.88,1)" font-size="6.2" fill="#3cb85a" font-weight="normal" text-anchor="middle" stroke="#3cb85a" stroke-width="0.22" >UNDER 25KV AC</text>
<rect x="706.0" y="321.2" width="31.4" height="11.8" fill="#fff" stroke="#8fd6a1" stroke-width="1" />
<text transform="translate(707.0,326.2) scale(0.86,1)" font-size="4.5" fill="#3cb85a" font-weight="bold" text-anchor="start" stroke="#3cb85a" stroke-width="0.15" >VidyaVihar ETS</text>
<text transform="translate(707.0,331.8) scale(0.86,1)" font-size="4.5" fill="#3cb85a" font-weight="bold" text-anchor="start" stroke="#3cb85a" stroke-width="0.15" >under 25KV AC</text>
<rect x="816.3" y="280.4" width="46.4" height="32.5" fill="#fff" stroke="#8fd6a1" stroke-width="1" />
<text transform="translate(818.7,287.6) scale(0.85,1)" font-size="6.2" fill="#3cb85a" font-weight="normal" text-anchor="start" stroke="#3cb85a" stroke-width="0.22" >VIDYAVIHAR</text>
<text transform="translate(818.7,295.5) scale(0.85,1)" font-size="6.2" fill="#3cb85a" font-weight="normal" text-anchor="start" stroke="#3cb85a" stroke-width="0.22" >FREIGHT YARD</text>
<text transform="translate(818.7,303.4) scale(0.85,1)" font-size="6.2" fill="#3cb85a" font-weight="normal" text-anchor="start" stroke="#3cb85a" stroke-width="0.22" >AND ETS UNDER</text>
<text transform="translate(818.7,311.3) scale(0.85,1)" font-size="6.2" fill="#3cb85a" font-weight="normal" text-anchor="start" stroke="#3cb85a" stroke-width="0.22" >25KV AC</text>
<rect x="835.6" y="256.0" width="31.1" height="17.3" fill="#fff" stroke="#8fd6a1" stroke-width="1" />
<text transform="translate(851.2,262.6) scale(0.9,1)" font-size="6.2" fill="#3cb85a" font-weight="normal" text-anchor="middle" stroke="#3cb85a" stroke-width="0.22" >UNDER</text>
<text transform="translate(851.2,269.6) scale(0.9,1)" font-size="6.2" fill="#3cb85a" font-weight="normal" text-anchor="middle" stroke="#3cb85a" stroke-width="0.22" >25KV AC</text>
<rect x="790.5" y="397.0" width="52.1" height="25.3" fill="#fff" stroke="#8fd6a1" stroke-width="1" />
<text transform="translate(816.5,405.5) scale(0.97,1)" font-size="5.9" fill="#3cb85a" font-weight="normal" text-anchor="middle" stroke="none" >KURLA EMU</text>
<text transform="translate(816.5,412.5) scale(0.97,1)" font-size="5.9" fill="#3cb85a" font-weight="normal" text-anchor="middle" stroke="none" >CARSHED UNDER</text>
<text transform="translate(816.5,419.5) scale(0.97,1)" font-size="5.9" fill="#3cb85a" font-weight="normal" text-anchor="middle" stroke="none" >UNDER 25KV AC</text>
<rect x="1001.4" y="340.8" width="70.9" height="13.2" fill="#e9e9e9" stroke="#8fd6a1" stroke-width="1" />
<text transform="translate(1003.8,347.3) scale(0.97,1)" font-size="5.6" fill="#333" font-weight="normal" text-anchor="start" stroke="none" >HARBOUR LINES UNDER</text>
<text transform="translate(1003.8,353.8) scale(0.97,1)" font-size="5.6" fill="#333" font-weight="normal" text-anchor="start" stroke="none" >25000V AC</text>
<rect x="1001.4" y="354.6" width="71.5" height="15.4" fill="#e9e9e9" stroke="#8fd6a1" stroke-width="1" />
<text transform="translate(1003.8,360.6) scale(0.97,1)" font-size="5.6" fill="#333" font-weight="normal" text-anchor="start" stroke="none" >MAINLINES UNDER</text>
<text transform="translate(1003.8,367.1) scale(0.97,1)" font-size="5.6" fill="#333" font-weight="normal" text-anchor="start" stroke="none" >25000V AC</text>
<rect x="847.8" y="413.2" width="46.8" height="24.1" fill="#fff" stroke="#808080" stroke-width="1" />
<text transform="translate(849.3,419.3) scale(0.9,1)" font-size="6.9" fill="#3cb85a" font-weight="normal" text-anchor="start" stroke="#3cb85a" stroke-width="0.22" >Bandra</text>
<text transform="translate(849.3,427.4) scale(0.9,1)" font-size="6.9" fill="#3cb85a" font-weight="normal" text-anchor="start" stroke="#3cb85a" stroke-width="0.22" >terminus Under</text>
<text transform="translate(849.3,435.5) scale(0.9,1)" font-size="6.9" fill="#3cb85a" font-weight="normal" text-anchor="start" stroke="#3cb85a" stroke-width="0.22" >25000V AC</text>
<rect x="778.5" y="264.8" width="33.1" height="20.3" fill="#fff" stroke="#555" stroke-width="1" />
<text transform="translate(782.8,270.2) scale(0.9,1)" font-size="5.2" fill="#222" font-weight="normal" text-anchor="start" stroke="#222" stroke-width="0.22" >Kurla</text>
<text transform="translate(782.8,276.8) scale(0.9,1)" font-size="5.2" fill="#222" font-weight="normal" text-anchor="start" stroke="#222" stroke-width="0.22" >Diesel</text>
<text transform="translate(782.8,283.5) scale(0.9,1)" font-size="5.2" fill="#222" font-weight="normal" text-anchor="start" stroke="#222" stroke-width="0.22" >LocoShed</text>
<rect x="891.7" y="256.3" width="43.1" height="19.1" fill="#fff" stroke="#808080" stroke-width="1" />
<text transform="translate(894.5,264.0) scale(0.9,1)" font-size="6.4" fill="#333" font-weight="normal" text-anchor="start" stroke="#333" stroke-width="0.22" >Trombay</text>
<text transform="translate(894.5,272.1) scale(0.9,1)" font-size="6.4" fill="#333" font-weight="normal" text-anchor="start" stroke="#333" stroke-width="0.22" >Oil Refineries</text>
<rect x="1158.4" y="309.2" width="37.1" height="22.2" fill="#fff" stroke="#7a7a7a" stroke-width="1.2" />
<text transform="translate(1163.0,318.7) scale(0.92,1)" font-size="6.3" fill="#222" font-weight="bold" text-anchor="start" stroke="#222" stroke-width="0.15" >Mumbai</text>
<text transform="translate(1163.0,326.7) scale(0.92,1)" font-size="6.3" fill="#222" font-weight="bold" text-anchor="start" stroke="#222" stroke-width="0.15" >Port Trust</text>
<rect x="737.7" y="379.3" width="38.2" height="6.5" fill="#fff" stroke="#808080" stroke-width="1" />
<text x="741.8" y="384.5" font-size="5.2" fill="#333" font-weight="normal" stroke="none" stroke-width="0" textLength="30.0" lengthAdjust="spacingAndGlyphs" xml:space="preserve" >VIDYAVIHAR</text>
<rect x="1046.4" y="257.3" width="44.2" height="21.3" fill="#fff" stroke="#22b14c" stroke-width="1.7" />
<text x="1047.9" y="263.6" font-size="5.2" fill="#222" font-weight="bold" stroke="none" stroke-width="0" textLength="19.7" lengthAdjust="spacingAndGlyphs" xml:space="preserve" >WADALA</text>
<text x="1047.9" y="269.8" font-size="5.2" fill="#222" font-weight="bold" stroke="none" stroke-width="0" textLength="31.6" lengthAdjust="spacingAndGlyphs" xml:space="preserve" >INTERCHANGE</text>
<text x="1047.9" y="275.9" font-size="5.2" fill="#222" font-weight="bold" stroke="none" stroke-width="0" textLength="11.8" lengthAdjust="spacingAndGlyphs" xml:space="preserve" >YARD</text>
<text x="1062.0" y="275.9" font-size="5.2" fill="#3cb85a" font-weight="normal" stroke="none" stroke-width="0" textLength="23.1" lengthAdjust="spacingAndGlyphs" xml:space="preserve" >25000V AC</text>
<rect x="1246.3" y="376.6" width="24.4" height="21.0" fill="#e9e9e9" stroke="#1e9fe8" stroke-width="1.6" />
<text transform="translate(1247.2,385.9) scale(0.86,1)" font-size="6.8" fill="#111" font-weight="bold" text-anchor="start" stroke="none" >Central</text>
<text transform="translate(1247.2,394.0) scale(0.86,1)" font-size="6.8" fill="#111" font-weight="bold" text-anchor="start" stroke="none" >Railway</text>
<rect x="1241.6" y="468.6" width="29.1" height="22.7" fill="#e9e9e9" stroke="#1e9fe8" stroke-width="1.6" />
<text transform="translate(1242.8,478.5) scale(0.86,1)" font-size="6.8" fill="#111" font-weight="bold" text-anchor="start" stroke="none" >Western</text>
<text transform="translate(1242.8,486.6) scale(0.86,1)" font-size="6.8" fill="#111" font-weight="bold" text-anchor="start" stroke="none" >Railway</text>
<text transform="translate(3.5,339.0) scale(0.9,1)" font-size="6.6" fill="#333" font-weight="normal" text-anchor="start" stroke="#333" stroke-width="0.15" >Towards</text>
<text transform="translate(3.5,346.9) scale(0.9,1)" font-size="6.6" fill="#333" font-weight="normal" text-anchor="start" stroke="#333" stroke-width="0.15" >Bhusaval / Nasik</text>
<text transform="translate(3.5,354.8) scale(0.9,1)" font-size="6.6" fill="#333" font-weight="normal" text-anchor="start" stroke="#333" stroke-width="0.15" >New Delhi</text>
<text transform="translate(5.9,461.5) scale(0.95,1)" font-size="6.6" fill="#333" font-weight="normal" text-anchor="start" stroke="#333" stroke-width="0.15" >Towards</text>
<text transform="translate(5.9,469.4) scale(0.95,1)" font-size="6.6" fill="#333" font-weight="normal" text-anchor="start" stroke="#333" stroke-width="0.15" >Baroda /</text>
<text transform="translate(5.9,477.3) scale(0.95,1)" font-size="6.6" fill="#333" font-weight="normal" text-anchor="start" stroke="#333" stroke-width="0.15" >New Delhi</text>
<text x="149.7" y="304.6" font-size="4.5" fill="#1e9fe8" font-weight="bold" stroke="none" stroke-width="0" textLength="33.6" lengthAdjust="spacingAndGlyphs" xml:space="preserve" >SOUTH EAST LINE</text>
<text x="79.5" y="383.1" font-size="4.5" fill="#1e9fe8" font-weight="bold" stroke="none" stroke-width="0" textLength="34.8" lengthAdjust="spacingAndGlyphs" xml:space="preserve" >NORTH EAST LINE</text>
<text transform="translate(384.2,380.1) scale(0.92,1)" font-size="5.6" fill="#b0283c" font-weight="normal" text-anchor="middle" stroke="none" >PARSIK</text>
<text transform="translate(384.2,385.5) scale(0.92,1)" font-size="5.6" fill="#b0283c" font-weight="normal" text-anchor="middle" stroke="none" >TUNNEL</text>
<text x="480.8" y="152.0" font-size="6.5" fill="#b0283c" font-weight="normal" stroke="none" stroke-width="0" textLength="42.2" lengthAdjust="spacingAndGlyphs" xml:space="preserve" >PARSIK TUNNEL</text>
<text x="987.8" y="528.1" font-size="5.2" fill="#1e9fe8" font-weight="bold" stroke="none" stroke-width="0" textLength="71.0" lengthAdjust="spacingAndGlyphs" xml:space="preserve" >(C) 2016  VIJAY ARAVAMUDHAN</text>
<rect x="532.3" y="1.6" width="67.4" height="145.8" fill="#f7f7f7" stroke="#111" stroke-width="1.6" />
<text transform="translate(536.2,12.2) scale(1.0,1)" font-size="4.9" fill="#111" font-weight="bold" text-anchor="start" stroke="none" text-decoration="underline">Legend</text>
<text transform="translate(537.0,20.0) scale(1.0,1)" font-size="4.9" fill="#111" font-weight="bold" text-anchor="start" stroke="none" >DC Electrified</text>
<text transform="translate(537.0,26.6) scale(1.0,1)" font-size="4.9" fill="#111" font-weight="bold" text-anchor="start" stroke="none" >Single Line</text>
<text transform="translate(537.0,39.8) scale(1.0,1)" font-size="4.9" fill="#111" font-weight="bold" text-anchor="start" stroke="none" >DC Electrified</text>
<text transform="translate(537.0,46.4) scale(1.0,1)" font-size="4.9" fill="#111" font-weight="bold" text-anchor="start" stroke="none" >Double Line</text>
<text transform="translate(537.0,59.6) scale(1.0,1)" font-size="4.9" fill="#111" font-weight="bold" text-anchor="start" stroke="none" >AC Electrified</text>
<text transform="translate(537.0,66.2) scale(1.0,1)" font-size="4.9" fill="#111" font-weight="bold" text-anchor="start" stroke="none" >Single Line</text>
<text transform="translate(537.0,79.6) scale(1.0,1)" font-size="4.9" fill="#111" font-weight="bold" text-anchor="start" stroke="none" >AC Electrified</text>
<text transform="translate(537.0,86.2) scale(1.0,1)" font-size="4.9" fill="#111" font-weight="bold" text-anchor="start" stroke="none" >Double line</text>
<text transform="translate(537.0,99.6) scale(1.0,1)" font-size="4.9" fill="#111" font-weight="bold" text-anchor="start" stroke="none" >Unelectrified</text>
<text transform="translate(537.0,106.2) scale(1.0,1)" font-size="4.9" fill="#111" font-weight="bold" text-anchor="start" stroke="none" >Double line</text>
<text transform="translate(537.0,119.4) scale(1.0,1)" font-size="4.9" fill="#111" font-weight="bold" text-anchor="start" stroke="none" >Unelectrified</text>
<text transform="translate(537.0,126.0) scale(1.0,1)" font-size="4.9" fill="#111" font-weight="bold" text-anchor="start" stroke="none" >Single line</text>
<text transform="translate(537.0,136.6) scale(1.0,1)" font-size="4.9" fill="#111" font-weight="bold" text-anchor="start" stroke="none" >DC-AC</text>
<text transform="translate(537.0,143.2) scale(1.0,1)" font-size="4.9" fill="#111" font-weight="bold" text-anchor="start" stroke="none" > Neutral Zone</text>
<polyline points="579.3,21.2 595.8,21.2" stroke="#ed1c24" stroke-width="1.1" />
<polyline points="579.3,38.1 595.8,38.1" stroke="#ed1c24" stroke-width="1.1" />
<polyline points="579.3,41.8 595.8,41.8" stroke="#ed1c24" stroke-width="1.1" />
<polyline points="578.5,59.8 595.0,59.8" stroke="#22b14c" stroke-width="1.1" />
<polyline points="578.5,78.4 595.0,78.4" stroke="#22b14c" stroke-width="1.1" />
<polyline points="578.5,82.4 595.0,82.4" stroke="#22b14c" stroke-width="1.1" />
<polyline points="578.5,101.0 594.5,101.0" stroke="#bdbdbd" stroke-width="0.9" />
<polyline points="578.5,104.4 594.5,104.4" stroke="#bdbdbd" stroke-width="0.9" />
<polyline points="577.5,120.8 593.0,120.8" stroke="#c8c8c8" stroke-width="0.9" />
<rect x="587.2" y="134.9" width="1.8" height="7.6" fill="#ed1c24" stroke="none" stroke-width="0" />
<rect x="589.0" y="134.9" width="1.6" height="7.6" fill="#22b14c" stroke="none" stroke-width="0" />
<rect x="618.3" y="4.3" width="608.7" height="28.1" fill="#ffff00" stroke="#111" stroke-width="1.6" />
<text x="635.0" y="24.5" font-size="16" font-weight="bold" fill="#ed1c24" stroke="#ed1c24" stroke-width="0.7" textLength="47.5" lengthAdjust="spacingAndGlyphs">FINAL</text>
<polyline points="635.0,26.2 682.5,26.2" stroke="#e8452a" stroke-width="1.3" />
<text x="688.3" y="24.5" font-size="16" font-weight="bold" fill="#000" stroke="#000" stroke-width="0.7" textLength="71.0" lengthAdjust="spacingAndGlyphs">MUMBAI</text>
<polyline points="688.3,26.2 759.3,26.2" stroke="#000" stroke-width="1.3" />
<text x="765.5" y="24.5" font-size="16" font-weight="bold" fill="#000" stroke="#000" stroke-width="0.7" textLength="51.5" lengthAdjust="spacingAndGlyphs">1500V</text>
<polyline points="765.5,26.2 817.0,26.2" stroke="#000" stroke-width="1.3" />
<text x="823.0" y="24.5" font-size="16" font-weight="bold" fill="#000" stroke="#000" stroke-width="0.7" textLength="23.3" lengthAdjust="spacingAndGlyphs">DC</text>
<polyline points="823.0,26.2 846.3,26.2" stroke="#000" stroke-width="1.3" />
<text x="852.0" y="24.5" font-size="16" font-weight="bold" fill="#000" stroke="#000" stroke-width="0.7" textLength="23.0" lengthAdjust="spacingAndGlyphs">TO</text>
<polyline points="852.0,26.2 875.0,26.2" stroke="#000" stroke-width="1.3" />
<text x="881.3" y="24.5" font-size="16" font-weight="bold" fill="#000" stroke="#000" stroke-width="0.7" textLength="62.5" lengthAdjust="spacingAndGlyphs">25000V</text>
<polyline points="881.3,26.2 943.8,26.2" stroke="#000" stroke-width="1.3" />
<text x="949.5" y="24.5" font-size="16" font-weight="bold" fill="#000" stroke="#000" stroke-width="0.7" textLength="23.0" lengthAdjust="spacingAndGlyphs">AC</text>
<polyline points="949.5,26.2 972.5,26.2" stroke="#000" stroke-width="1.3" />
<text x="978.3" y="24.5" font-size="16" font-weight="bold" fill="#000" stroke="#000" stroke-width="0.7" textLength="114.2" lengthAdjust="spacingAndGlyphs">CONVERSION</text>
<polyline points="978.3,26.2 1092.5,26.2" stroke="#000" stroke-width="1.3" />
<text x="1098.3" y="24.5" font-size="16" font-weight="bold" fill="#000" stroke="#000" stroke-width="0.7" textLength="37.2" lengthAdjust="spacingAndGlyphs">MAP</text>
<polyline points="1098.3,26.2 1135.5,26.2" stroke="#000" stroke-width="1.3" />
<text x="1148.8" y="23.9" font-size="14" font-weight="bold" fill="#000" stroke="#000" stroke-width="0.7" textLength="32.5" lengthAdjust="spacingAndGlyphs">APR</text>
<polyline points="1148.8,26.2 1181.3,26.2" stroke="#000" stroke-width="1.3" />
<text x="1185.5" y="23.9" font-size="14" font-weight="bold" fill="#000" stroke="#000" stroke-width="0.7" textLength="37.0" lengthAdjust="spacingAndGlyphs">2016</text>
<polyline points="1185.5,26.2 1222.5,26.2" stroke="#000" stroke-width="1.3" />
<polyline points="1141.3,19.6 1145.8,19.6" stroke="#000" stroke-width="2.4" />
<rect x="676.0" y="34.2" width="374.5" height="210.8" fill="#fff" stroke="#a349a4" stroke-width="1.5" />
<text x="680.3" y="42.4" font-size="4.6" fill="#111" font-weight="bold" stroke="none" stroke-width="0" textLength="127.9" lengthAdjust="spacingAndGlyphs" xml:space="preserve" >DC  - AC Conversion Status As On FEBRUARY 09, 2016</text>
<polyline points="680.3,43.2 808.2,43.2" stroke="#111" stroke-width="0.5" />
<text x="680.3" y="49.8" font-size="4.6" fill="#ed1c24" font-weight="bold" stroke="none" stroke-width="0" textLength="100.4" lengthAdjust="spacingAndGlyphs" xml:space="preserve" >FINAL DC AC CONVERSION HAPPENED ON</text>
<polyline points="680.3,50.7 780.7,50.7" stroke="#ed1c24" stroke-width="0.5" />
<text x="680.3" y="58.1" font-size="4.6" fill="#111" font-weight="bold" stroke="none" stroke-width="0" textLength="362.7" lengthAdjust="spacingAndGlyphs" xml:space="preserve" >CSTM - WADALA - KURLA - VASHI - NERUL - PANVEL Harbour lines, WADALA - KING CIRCLE - MAHIM (Excl) Harbour line and Thane-Turbhe  - Vashi/Nerul</text>
<text x="680.3" y="64.7" font-size="4.6" fill="#111" font-weight="bold" stroke="none" stroke-width="0" textLength="303.7" lengthAdjust="spacingAndGlyphs" xml:space="preserve" >Trans Harbour Lines, Kurla - Mahul - Trombay, Freight line, including Sanpada EMU Carshed,  of Mumbai Division, Central Railway</text>
<text x="680.3" y="73.4" font-size="4.6" fill="#1e9fe8" font-weight="bold" stroke="none" stroke-width="0" textLength="363.7" lengthAdjust="spacingAndGlyphs" xml:space="preserve" >WITH THIS AC CONVERSION, MUMBAI CHATTHRAPATHI SHIVAJI TERMINUS (ERSTWHILE BORIBUNDER VICTORIA TERMINUS) - HARBOUR LINE,  WHICH WAS</text>
<text x="680.3" y="79.8" font-size="4.6" fill="#1e9fe8" font-weight="bold" stroke="none" stroke-width="0" textLength="358.2" lengthAdjust="spacingAndGlyphs" xml:space="preserve" >FIRST TO BE ELECTRIFIED UNDER 1500 VOLTS DC - KURLA (COORLA),  AND KURLA - PANVEL, AND THANE-TURBHE VASHI/NERUL TRANS HARBOUR LINES</text>
<text x="680.3" y="86.4" font-size="4.6" fill="#1e9fe8" font-weight="bold" stroke="none" stroke-width="0" textLength="306.7" lengthAdjust="spacingAndGlyphs" xml:space="preserve" >SECTION OF  CENTRAL RAILWAY HAS BEEN CONNECTED TO REST OF THE 25KV AC ELECTRIFIED TERRITORIES OF INDIAN RAILWAYS.</text>
<text x="798.6" y="93.0" font-size="4.6" fill="#ed1c24" font-weight="bold" stroke="none" stroke-width="0" textLength="119.9" lengthAdjust="spacingAndGlyphs" xml:space="preserve" >THIS COMPLETES DC AC CONVERSION OF MUMBAI</text>
<text x="680.3" y="98.8" font-size="4.6" fill="#a236a6" font-weight="bold" stroke="none" stroke-width="0" textLength="154.7" lengthAdjust="spacingAndGlyphs" xml:space="preserve" >1500Volts DC to 25000Volts AC Conversion Calendar as on date:</text>
<polyline points="680.3,99.7 835.0,99.7" stroke="#a236a6" stroke-width="0.5" />
<text x="680.3" y="105.4" font-size="4.6" fill="#a236a6" font-weight="bold" stroke="none" stroke-width="0" textLength="158.9" lengthAdjust="spacingAndGlyphs" xml:space="preserve" >1a. Diva (Excl) - Kaman  - Vasai Road (excl)  / CR / October 29, 2003</text>
<text x="680.3" y="111.8" font-size="4.6" fill="#a236a6" font-weight="bold" stroke="none" stroke-width="0" textLength="145.2" lengthAdjust="spacingAndGlyphs" xml:space="preserve" >1b. Diva (Excl) - Panvel  - Jasai - JNPT  / CR / October 29, 2003</text>
<text x="683.4" y="118.5" font-size="4.6" fill="#a236a6" font-weight="bold" stroke="none" stroke-width="0" textLength="124.8" lengthAdjust="spacingAndGlyphs" xml:space="preserve" >2.  Vasai Road - Virar 3rd 4th lines /  WR / Late 2004</text>
<text x="683.4" y="125.3" font-size="4.6" fill="#a236a6" font-weight="bold" stroke="none" stroke-width="0" textLength="117.3" lengthAdjust="spacingAndGlyphs" xml:space="preserve" >3. Igatpuri - Kasara (incl) / CR / February 19, 2006</text>
<text x="683.4" y="131.9" font-size="4.6" fill="#a236a6" font-weight="bold" stroke="none" stroke-width="0" textLength="123.1" lengthAdjust="spacingAndGlyphs" xml:space="preserve" >4. Kasara - Khadavli (incl) / CR / November 12, 2006</text>
<text x="683.4" y="138.6" font-size="4.6" fill="#a236a6" font-weight="bold" stroke="none" stroke-width="0" textLength="236.1" lengthAdjust="spacingAndGlyphs" xml:space="preserve" >5. Khadavli - Titwala - KYN Freight yard  - KYN-DIVA 5th 6th lines - Diva Jn (excl) / CR / May 03, 2009</text>
<text x="683.4" y="145.1" font-size="4.6" fill="#a236a6" font-weight="bold" stroke="none" stroke-width="0" textLength="121.2" lengthAdjust="spacingAndGlyphs" xml:space="preserve" >6. Pune - Lonavala (Excl) / CR / December 10, 2009</text>
<text x="683.4" y="151.9" font-size="4.6" fill="#a236a6" font-weight="bold" stroke="none" stroke-width="0" textLength="105.4" lengthAdjust="spacingAndGlyphs" xml:space="preserve" >7. Virar - Borivali (Excl) / CR / February 2010</text>
<text x="683.4" y="158.7" font-size="4.6" fill="#a236a6" font-weight="bold" stroke="none" stroke-width="0" textLength="193.1" lengthAdjust="spacingAndGlyphs" xml:space="preserve" >8. Lonavala (incl) - Karjat / Khopoli - Vanagani - Badlapur (excl) / CR / May 2, 2010</text>
<text x="683.4" y="165.2" font-size="4.6" fill="#a236a6" font-weight="bold" stroke="none" stroke-width="0" textLength="114.6" lengthAdjust="spacingAndGlyphs" xml:space="preserve" >9. Badlapur - KYN (excl) / CR / October 24, 2010</text>
<text x="680.3" y="172.0" font-size="4.6" fill="#a236a6" font-weight="bold" stroke="none" stroke-width="0" textLength="226.7" lengthAdjust="spacingAndGlyphs" xml:space="preserve" >10. Diva Outer (KYN end) - Diva Jn PF 3,4,5 &amp; Yard - Diva Jn Outer (south)  / CR / April 17, 2011</text>
<text x="680.3" y="178.5" font-size="4.6" fill="#a236a6" font-weight="bold" stroke="none" stroke-width="0" textLength="221.7" lengthAdjust="spacingAndGlyphs" xml:space="preserve" >11. Dahisar (Excl) - Borivali (incl)  - Andheri (incl) - Vile Parle (Excl) / WR / November 13, 2011</text>
<text x="680.3" y="185.0" font-size="4.6" fill="#a236a6" font-weight="bold" stroke="none" stroke-width="0" textLength="217.7" lengthAdjust="spacingAndGlyphs" xml:space="preserve" >12. Vile-Parle - Bandra - Mahim outer (Harbour line) - Churchgate  / WR / February 5, 2012</text>
<text x="680.3" y="191.6" font-size="4.6" fill="#a236a6" font-weight="bold" stroke="none" stroke-width="0" textLength="198.2" lengthAdjust="spacingAndGlyphs" xml:space="preserve" >13a. Kalyan Junction Incl - Diva Jn - Mumbra All  4 Mainlines / CR / January 11, 2014</text>
<text x="680.3" y="198.3" font-size="4.6" fill="#a236a6" font-weight="bold" stroke="none" stroke-width="0" textLength="170.0" lengthAdjust="spacingAndGlyphs" xml:space="preserve" >13b. Mumbra - Thane - Mulund Excl - Fast Lines / CR / January 11, 2014</text>
<text x="680.3" y="204.9" font-size="4.6" fill="#a236a6" font-weight="bold" stroke="none" stroke-width="0" textLength="214.7" lengthAdjust="spacingAndGlyphs" xml:space="preserve" >13c. Thane - Mulund / Vidyavihar Freight Yard  - LTT: 5th 6th lines / CR / January 11, 2014</text>
<text x="680.3" y="212.6" font-size="4.6" fill="#a236a6" font-weight="bold" stroke="none" stroke-width="0" textLength="198.2" lengthAdjust="spacingAndGlyphs" xml:space="preserve" >14a. Mumbra Incl - Thane - CSTM Slow Lines including Kalva &amp; Kurla EMU Charsheds</text>
<text x="692.1" y="219.8" font-size="4.6" fill="#a236a6" font-weight="bold" stroke="none" stroke-width="0" textLength="106.4" lengthAdjust="spacingAndGlyphs" xml:space="preserve" >and Matunga Workshop / CR / June 08 , 2015</text>
<text x="680.3" y="227.7" font-size="4.6" fill="#a236a6" font-weight="bold" stroke="none" stroke-width="0" textLength="131.1" lengthAdjust="spacingAndGlyphs" xml:space="preserve" >14b. Mulund Incl  - CSTM Fast lines / CR / June 08 . 2015</text>
<text x="680.3" y="234.0" font-size="4.6" fill="#22b14c" font-weight="bold" stroke="none" stroke-width="0" textLength="253.7" lengthAdjust="spacingAndGlyphs" xml:space="preserve" >15.  CSTM - Wadala - Mahim(Excl) - Kurla - Vashi - Nerul - Panvel Harbour lines, Thane - Turbhe (incl freight</text>
<polyline points="680.3,234.9 934.0,234.9" stroke="#22b14c" stroke-width="0.5" />
<text x="680.3" y="240.8" font-size="4.6" fill="#22b14c" font-weight="bold" stroke="none" stroke-width="0" textLength="255.7" lengthAdjust="spacingAndGlyphs" xml:space="preserve" >yard) - Vashi / Nerul and Kurla - Mahul - Trombhay line / CR /     April 10 , 2016 - FINAL DC AC CONVERSION</text>
<polyline points="680.3,241.7 936.0,241.7" stroke="#22b14c" stroke-width="0.5" />
</g>
</g>
</svg></body></html>
